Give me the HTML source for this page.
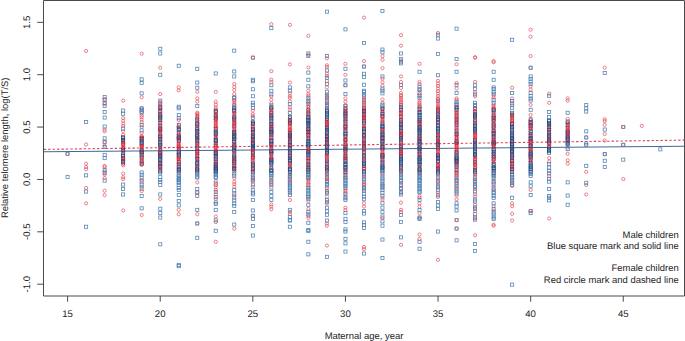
<!DOCTYPE html><html><head><meta charset="utf-8"><style>html,body{margin:0;padding:0;background:#fff;overflow:hidden;}svg{display:block}text{font-family:"Liberation Sans",sans-serif;text-rendering:geometricPrecision;}</style></head><body>
<svg width="685" height="341" viewBox="0 0 685 341">
<rect width="685" height="341" fill="#fff"/>
<line x1="43.5" y1="151.8" x2="684" y2="146.3" stroke="#3d6b9a" stroke-width="1.05"/>
<line x1="43.7" y1="149.4" x2="684" y2="140.1" stroke="#e04858" stroke-width="1.1" stroke-dasharray="2.45 1.987"/>
<style>.bs{stroke:#4d7fb2;stroke-width:0.75}.bd{stroke:#1a4a85;stroke-width:0.65}.rs{stroke:#e34d5a;stroke-width:0.7}.rd{stroke:#e01525;stroke-width:0.6}</style>
<g fill="none"><circle class="rd" cx="326.9" cy="162.0" r="1.6"/><rect class="bd" x="195.7" y="126.1" width="3.1" height="3.1"/><rect class="bs" x="362.4" y="185.1" width="3.1" height="3.1"/><rect class="bd" x="436.5" y="117.0" width="3.1" height="3.1"/><rect class="bd" x="269.8" y="171.2" width="3.1" height="3.1"/><circle class="rd" cx="160.2" cy="124.9" r="1.6"/><rect class="bs" x="547.6" y="180.0" width="3.1" height="3.1"/><circle class="rs" cx="326.9" cy="94.3" r="1.6"/><rect class="bd" x="547.6" y="128.5" width="3.1" height="3.1"/><circle class="rd" cx="141.7" cy="147.1" r="1.6"/><rect class="bs" x="288.3" y="182.9" width="3.1" height="3.1"/><rect class="bd" x="547.6" y="139.5" width="3.1" height="3.1"/><rect class="bs" x="140.1" y="176.0" width="3.1" height="3.1"/><rect class="bd" x="380.9" y="136.4" width="3.1" height="3.1"/><circle class="rs" cx="475.1" cy="57.2" r="1.6"/><circle class="rd" cx="215.8" cy="127.7" r="1.6"/><circle class="rd" cx="123.2" cy="165.3" r="1.6"/><rect class="bd" x="232.7" y="135.7" width="3.1" height="3.1"/><rect class="bd" x="510.6" y="139.6" width="3.1" height="3.1"/><circle class="rd" cx="438.0" cy="156.6" r="1.6"/><circle class="rd" cx="326.9" cy="125.9" r="1.6"/><circle class="rd" cx="475.1" cy="168.2" r="1.6"/><circle class="rd" cx="364.0" cy="118.9" r="1.6"/><rect class="bd" x="269.8" y="129.8" width="3.1" height="3.1"/><circle class="rs" cx="438.0" cy="184.5" r="1.6"/><circle class="rs" cx="215.8" cy="91.8" r="1.6"/><circle class="rd" cx="512.1" cy="156.5" r="1.6"/><rect class="bs" x="140.1" y="110.0" width="3.1" height="3.1"/><rect class="bd" x="232.7" y="164.5" width="3.1" height="3.1"/><rect class="bd" x="288.3" y="138.8" width="3.1" height="3.1"/><rect class="bs" x="158.7" y="102.7" width="3.1" height="3.1"/><circle class="rd" cx="512.1" cy="142.5" r="1.6"/><rect class="bs" x="492.1" y="174.6" width="3.1" height="3.1"/><circle class="rd" cx="549.2" cy="125.9" r="1.6"/><rect class="bd" x="362.4" y="112.4" width="3.1" height="3.1"/><rect class="bs" x="510.6" y="38.2" width="3.1" height="3.1"/><rect class="bs" x="214.2" y="208.3" width="3.1" height="3.1"/><circle class="rs" cx="512.1" cy="173.9" r="1.6"/><rect class="bd" x="547.6" y="147.1" width="3.1" height="3.1"/><circle class="rd" cx="401.0" cy="122.3" r="1.6"/><circle class="rd" cx="123.2" cy="144.3" r="1.6"/><rect class="bs" x="399.4" y="179.6" width="3.1" height="3.1"/><rect class="bs" x="325.4" y="213.2" width="3.1" height="3.1"/><rect class="bs" x="306.8" y="102.4" width="3.1" height="3.1"/><circle class="rd" cx="271.3" cy="122.8" r="1.6"/><circle class="rd" cx="345.4" cy="143.0" r="1.6"/><circle class="rs" cx="456.6" cy="99.8" r="1.6"/><circle class="rd" cx="493.6" cy="166.9" r="1.6"/><rect class="bs" x="269.8" y="180.2" width="3.1" height="3.1"/><circle class="rd" cx="308.4" cy="147.8" r="1.6"/><circle class="rd" cx="215.8" cy="150.2" r="1.6"/><rect class="bd" x="455.0" y="141.1" width="3.1" height="3.1"/><rect class="bd" x="473.5" y="149.4" width="3.1" height="3.1"/><circle class="rd" cx="493.6" cy="120.3" r="1.6"/><circle class="rs" cx="215.8" cy="216.5" r="1.6"/><rect class="bs" x="158.7" y="51.9" width="3.1" height="3.1"/><circle class="rd" cx="160.2" cy="115.6" r="1.6"/><circle class="rs" cx="493.6" cy="224.6" r="1.6"/><rect class="bs" x="362.4" y="180.3" width="3.1" height="3.1"/><rect class="bd" x="436.5" y="156.7" width="3.1" height="3.1"/><circle class="rs" cx="382.5" cy="197.7" r="1.6"/><rect class="bd" x="455.0" y="151.9" width="3.1" height="3.1"/><circle class="rd" cx="160.2" cy="108.1" r="1.6"/><circle class="rd" cx="401.0" cy="126.8" r="1.6"/><rect class="bd" x="362.4" y="126.8" width="3.1" height="3.1"/><rect class="bd" x="306.8" y="122.5" width="3.1" height="3.1"/><circle class="rd" cx="345.4" cy="140.6" r="1.6"/><rect class="bd" x="306.8" y="159.7" width="3.1" height="3.1"/><circle class="rs" cx="104.6" cy="145.7" r="1.6"/><circle class="rd" cx="512.1" cy="138.8" r="1.6"/><rect class="bs" x="492.1" y="215.9" width="3.1" height="3.1"/><circle class="rd" cx="197.3" cy="130.3" r="1.6"/><rect class="bd" x="362.4" y="106.4" width="3.1" height="3.1"/><circle class="rd" cx="401.0" cy="125.8" r="1.6"/><rect class="bs" x="455.0" y="171.9" width="3.1" height="3.1"/><circle class="rd" cx="252.8" cy="170.1" r="1.6"/><circle class="rd" cx="289.9" cy="129.8" r="1.6"/><circle class="rs" cx="512.1" cy="105.4" r="1.6"/><circle class="rs" cx="104.6" cy="190.7" r="1.6"/><rect class="bd" x="418.0" y="126.2" width="3.1" height="3.1"/><rect class="bs" x="510.6" y="101.8" width="3.1" height="3.1"/><circle class="rd" cx="326.9" cy="145.7" r="1.6"/><circle class="rd" cx="326.9" cy="161.3" r="1.6"/><rect class="bd" x="399.4" y="147.5" width="3.1" height="3.1"/><rect class="bd" x="436.5" y="160.4" width="3.1" height="3.1"/><rect class="bs" x="140.1" y="179.9" width="3.1" height="3.1"/><rect class="bd" x="269.8" y="136.1" width="3.1" height="3.1"/><circle class="rd" cx="252.8" cy="136.9" r="1.6"/><circle class="rs" cx="493.6" cy="174.9" r="1.6"/><circle class="rd" cx="234.3" cy="114.9" r="1.6"/><rect class="bs" x="214.2" y="182.0" width="3.1" height="3.1"/><rect class="bs" x="84.6" y="190.0" width="3.1" height="3.1"/><rect class="bd" x="529.1" y="134.4" width="3.1" height="3.1"/><circle class="rs" cx="234.3" cy="102.5" r="1.6"/><rect class="bd" x="214.2" y="154.5" width="3.1" height="3.1"/><circle class="rs" cx="326.9" cy="188.0" r="1.6"/><rect class="bd" x="362.4" y="144.8" width="3.1" height="3.1"/><circle class="rd" cx="530.6" cy="145.1" r="1.6"/><rect class="bs" x="418.0" y="187.8" width="3.1" height="3.1"/><rect class="bd" x="343.9" y="145.5" width="3.1" height="3.1"/><rect class="bd" x="343.9" y="162.5" width="3.1" height="3.1"/><circle class="rd" cx="326.9" cy="169.9" r="1.6"/><rect class="bd" x="362.4" y="110.2" width="3.1" height="3.1"/><rect class="bs" x="325.4" y="198.6" width="3.1" height="3.1"/><circle class="rd" cx="456.6" cy="119.1" r="1.6"/><rect class="bs" x="214.2" y="190.5" width="3.1" height="3.1"/><rect class="bs" x="306.8" y="197.2" width="3.1" height="3.1"/><rect class="bd" x="547.6" y="145.7" width="3.1" height="3.1"/><circle class="rd" cx="401.0" cy="113.0" r="1.6"/><rect class="bd" x="195.7" y="169.9" width="3.1" height="3.1"/><rect class="bs" x="399.4" y="103.6" width="3.1" height="3.1"/><circle class="rd" cx="178.7" cy="147.6" r="1.6"/><rect class="bd" x="399.4" y="165.2" width="3.1" height="3.1"/><circle class="rs" cx="623.3" cy="144.8" r="1.6"/><circle class="rd" cx="364.0" cy="133.5" r="1.6"/><rect class="bd" x="529.1" y="156.8" width="3.1" height="3.1"/><circle class="rs" cx="215.8" cy="194.2" r="1.6"/><circle class="rd" cx="308.4" cy="137.2" r="1.6"/><circle class="rs" cx="438.0" cy="179.6" r="1.6"/><circle class="rd" cx="215.8" cy="141.3" r="1.6"/><rect class="bs" x="399.4" y="178.1" width="3.1" height="3.1"/><circle class="rs" cx="234.3" cy="181.7" r="1.6"/><rect class="bs" x="380.9" y="171.9" width="3.1" height="3.1"/><circle class="rd" cx="178.7" cy="126.4" r="1.6"/><rect class="bd" x="195.7" y="129.4" width="3.1" height="3.1"/><circle class="rd" cx="289.9" cy="149.0" r="1.6"/><rect class="bs" x="177.2" y="116.7" width="3.1" height="3.1"/><circle class="rd" cx="160.2" cy="131.0" r="1.6"/><circle class="rd" cx="308.4" cy="130.4" r="1.6"/><rect class="bs" x="547.6" y="196.2" width="3.1" height="3.1"/><circle class="rd" cx="234.3" cy="129.5" r="1.6"/><circle class="rd" cx="160.2" cy="138.1" r="1.6"/><circle class="rs" cx="215.8" cy="181.3" r="1.6"/><circle class="rs" cx="289.9" cy="191.1" r="1.6"/><rect class="bd" x="473.5" y="142.5" width="3.1" height="3.1"/><circle class="rd" cx="401.0" cy="165.8" r="1.6"/><circle class="rs" cx="401.0" cy="88.0" r="1.6"/><rect class="bd" x="325.4" y="145.0" width="3.1" height="3.1"/><circle class="rd" cx="382.5" cy="108.1" r="1.6"/><circle class="rd" cx="530.6" cy="161.7" r="1.6"/><circle class="rd" cx="271.3" cy="166.6" r="1.6"/><rect class="bd" x="343.9" y="106.4" width="3.1" height="3.1"/><circle class="rd" cx="123.2" cy="150.3" r="1.6"/><rect class="bd" x="343.9" y="117.6" width="3.1" height="3.1"/><rect class="bd" x="269.8" y="111.3" width="3.1" height="3.1"/><rect class="bs" x="84.6" y="225.2" width="3.1" height="3.1"/><rect class="bs" x="306.8" y="183.2" width="3.1" height="3.1"/><circle class="rd" cx="308.4" cy="122.2" r="1.6"/><rect class="bd" x="510.6" y="159.7" width="3.1" height="3.1"/><circle class="rs" cx="308.4" cy="208.8" r="1.6"/><rect class="bd" x="232.7" y="124.8" width="3.1" height="3.1"/><rect class="bd" x="510.6" y="152.8" width="3.1" height="3.1"/><rect class="bs" x="399.4" y="235.8" width="3.1" height="3.1"/><rect class="bd" x="195.7" y="150.0" width="3.1" height="3.1"/><rect class="bd" x="510.6" y="154.2" width="3.1" height="3.1"/><circle class="rd" cx="326.9" cy="154.4" r="1.6"/><rect class="bs" x="380.9" y="238.0" width="3.1" height="3.1"/><rect class="bd" x="325.4" y="122.9" width="3.1" height="3.1"/><circle class="rd" cx="234.3" cy="113.3" r="1.6"/><circle class="rs" cx="604.7" cy="124.8" r="1.6"/><rect class="bd" x="214.2" y="164.4" width="3.1" height="3.1"/><circle class="rs" cx="512.1" cy="87.8" r="1.6"/><circle class="rs" cx="308.4" cy="200.8" r="1.6"/><circle class="rd" cx="475.1" cy="142.8" r="1.6"/><rect class="bd" x="529.1" y="124.8" width="3.1" height="3.1"/><circle class="rd" cx="512.1" cy="119.9" r="1.6"/><rect class="bd" x="306.8" y="150.4" width="3.1" height="3.1"/><circle class="rd" cx="419.5" cy="130.3" r="1.6"/><circle class="rs" cx="123.2" cy="120.8" r="1.6"/><circle class="rd" cx="271.3" cy="164.8" r="1.6"/><circle class="rs" cx="271.3" cy="81.9" r="1.6"/><rect class="bd" x="455.0" y="118.5" width="3.1" height="3.1"/><rect class="bs" x="325.4" y="68.9" width="3.1" height="3.1"/><circle class="rs" cx="67.6" cy="153.8" r="1.6"/><circle class="rs" cx="326.9" cy="245.5" r="1.6"/><circle class="rs" cx="364.0" cy="183.7" r="1.6"/><rect class="bs" x="603.2" y="71.5" width="3.1" height="3.1"/><circle class="rs" cx="419.5" cy="90.2" r="1.6"/><rect class="bd" x="380.9" y="127.0" width="3.1" height="3.1"/><rect class="bs" x="418.0" y="96.4" width="3.1" height="3.1"/><circle class="rd" cx="326.9" cy="129.3" r="1.6"/><rect class="bs" x="251.3" y="106.4" width="3.1" height="3.1"/><rect class="bd" x="343.9" y="134.1" width="3.1" height="3.1"/><circle class="rs" cx="438.0" cy="80.8" r="1.6"/><rect class="bd" x="251.3" y="131.9" width="3.1" height="3.1"/><rect class="bd" x="269.8" y="132.8" width="3.1" height="3.1"/><circle class="rd" cx="530.6" cy="122.6" r="1.6"/><circle class="rs" cx="326.9" cy="203.6" r="1.6"/><circle class="rd" cx="530.6" cy="134.9" r="1.6"/><circle class="rd" cx="530.6" cy="161.0" r="1.6"/><circle class="rd" cx="419.5" cy="162.9" r="1.6"/><rect class="bd" x="399.4" y="108.6" width="3.1" height="3.1"/><rect class="bd" x="510.6" y="165.4" width="3.1" height="3.1"/><rect class="bd" x="214.2" y="110.4" width="3.1" height="3.1"/><rect class="bs" x="103.1" y="95.5" width="3.1" height="3.1"/><circle class="rd" cx="549.2" cy="124.0" r="1.6"/><rect class="bs" x="529.1" y="97.0" width="3.1" height="3.1"/><rect class="bs" x="529.1" y="193.5" width="3.1" height="3.1"/><circle class="rd" cx="197.3" cy="146.8" r="1.6"/><rect class="bd" x="158.7" y="140.2" width="3.1" height="3.1"/><rect class="bd" x="251.3" y="155.8" width="3.1" height="3.1"/><circle class="rs" cx="123.2" cy="179.1" r="1.6"/><rect class="bs" x="380.9" y="214.9" width="3.1" height="3.1"/><rect class="bd" x="306.8" y="144.8" width="3.1" height="3.1"/><rect class="bs" x="584.7" y="143.4" width="3.1" height="3.1"/><circle class="rd" cx="215.8" cy="138.5" r="1.6"/><rect class="bd" x="158.7" y="158.0" width="3.1" height="3.1"/><rect class="bd" x="232.7" y="157.8" width="3.1" height="3.1"/><circle class="rs" cx="289.9" cy="96.2" r="1.6"/><circle class="rd" cx="401.0" cy="120.0" r="1.6"/><rect class="bs" x="473.5" y="215.9" width="3.1" height="3.1"/><rect class="bd" x="177.2" y="165.7" width="3.1" height="3.1"/><rect class="bd" x="362.4" y="167.7" width="3.1" height="3.1"/><rect class="bd" x="473.5" y="124.4" width="3.1" height="3.1"/><circle class="rs" cx="567.7" cy="98.4" r="1.6"/><rect class="bd" x="306.8" y="133.4" width="3.1" height="3.1"/><circle class="rd" cx="512.1" cy="168.4" r="1.6"/><circle class="rs" cx="104.6" cy="165.9" r="1.6"/><rect class="bs" x="177.2" y="193.5" width="3.1" height="3.1"/><circle class="rs" cx="493.6" cy="106.2" r="1.6"/><rect class="bd" x="492.1" y="169.3" width="3.1" height="3.1"/><rect class="bs" x="158.7" y="47.2" width="3.1" height="3.1"/><rect class="bd" x="362.4" y="155.9" width="3.1" height="3.1"/><circle class="rd" cx="271.3" cy="152.1" r="1.6"/><rect class="bd" x="362.4" y="161.2" width="3.1" height="3.1"/><rect class="bd" x="121.6" y="156.8" width="3.1" height="3.1"/><circle class="rd" cx="234.3" cy="134.0" r="1.6"/><circle class="rd" cx="475.1" cy="129.7" r="1.6"/><circle class="rs" cx="512.1" cy="178.5" r="1.6"/><rect class="bd" x="343.9" y="124.2" width="3.1" height="3.1"/><rect class="bd" x="418.0" y="120.8" width="3.1" height="3.1"/><circle class="rd" cx="475.1" cy="137.9" r="1.6"/><rect class="bs" x="380.9" y="87.0" width="3.1" height="3.1"/><rect class="bs" x="103.1" y="101.5" width="3.1" height="3.1"/><rect class="bd" x="362.4" y="134.9" width="3.1" height="3.1"/><rect class="bs" x="380.9" y="74.9" width="3.1" height="3.1"/><circle class="rd" cx="549.2" cy="143.1" r="1.6"/><circle class="rd" cx="308.4" cy="127.6" r="1.6"/><rect class="bd" x="140.1" y="142.0" width="3.1" height="3.1"/><rect class="bd" x="418.0" y="113.3" width="3.1" height="3.1"/><rect class="bs" x="547.6" y="169.3" width="3.1" height="3.1"/><circle class="rd" cx="308.4" cy="135.8" r="1.6"/><circle class="rs" cx="530.6" cy="89.6" r="1.6"/><rect class="bs" x="362.4" y="94.7" width="3.1" height="3.1"/><circle class="rd" cx="364.0" cy="161.4" r="1.6"/><rect class="bd" x="325.4" y="115.4" width="3.1" height="3.1"/><circle class="rd" cx="419.5" cy="147.5" r="1.6"/><circle class="rd" cx="456.6" cy="144.3" r="1.6"/><rect class="bs" x="232.7" y="49.1" width="3.1" height="3.1"/><rect class="bd" x="566.1" y="133.7" width="3.1" height="3.1"/><circle class="rs" cx="345.4" cy="74.8" r="1.6"/><rect class="bd" x="436.5" y="136.4" width="3.1" height="3.1"/><circle class="rs" cx="160.2" cy="198.9" r="1.6"/><circle class="rs" cx="530.6" cy="67.7" r="1.6"/><rect class="bs" x="214.2" y="176.1" width="3.1" height="3.1"/><rect class="bs" x="140.1" y="136.4" width="3.1" height="3.1"/><rect class="bs" x="232.7" y="96.6" width="3.1" height="3.1"/><circle class="rs" cx="86.1" cy="167.0" r="1.6"/><rect class="bd" x="325.4" y="108.1" width="3.1" height="3.1"/><rect class="bs" x="455.0" y="102.2" width="3.1" height="3.1"/><circle class="rd" cx="438.0" cy="116.2" r="1.6"/><rect class="bs" x="288.3" y="177.1" width="3.1" height="3.1"/><rect class="bd" x="362.4" y="127.5" width="3.1" height="3.1"/><circle class="rd" cx="289.9" cy="127.2" r="1.6"/><circle class="rd" cx="234.3" cy="121.7" r="1.6"/><rect class="bd" x="269.8" y="131.3" width="3.1" height="3.1"/><rect class="bs" x="603.2" y="128.0" width="3.1" height="3.1"/><rect class="bd" x="140.1" y="153.4" width="3.1" height="3.1"/><circle class="rs" cx="549.2" cy="158.2" r="1.6"/><rect class="bd" x="492.1" y="167.4" width="3.1" height="3.1"/><rect class="bs" x="269.8" y="172.8" width="3.1" height="3.1"/><rect class="bs" x="436.5" y="175.9" width="3.1" height="3.1"/><circle class="rd" cx="438.0" cy="153.8" r="1.6"/><rect class="bd" x="399.4" y="161.3" width="3.1" height="3.1"/><circle class="rd" cx="326.9" cy="127.0" r="1.6"/><rect class="bs" x="473.5" y="242.4" width="3.1" height="3.1"/><circle class="rd" cx="567.7" cy="126.2" r="1.6"/><circle class="rd" cx="197.3" cy="122.8" r="1.6"/><rect class="bd" x="529.1" y="150.2" width="3.1" height="3.1"/><rect class="bs" x="492.1" y="98.3" width="3.1" height="3.1"/><rect class="bs" x="306.8" y="210.3" width="3.1" height="3.1"/><circle class="rd" cx="326.9" cy="134.8" r="1.6"/><rect class="bs" x="325.4" y="255.3" width="3.1" height="3.1"/><circle class="rs" cx="382.5" cy="68.2" r="1.6"/><rect class="bd" x="547.6" y="133.1" width="3.1" height="3.1"/><circle class="rs" cx="197.3" cy="98.4" r="1.6"/><rect class="bd" x="529.1" y="137.7" width="3.1" height="3.1"/><circle class="rs" cx="419.5" cy="217.6" r="1.6"/><rect class="bs" x="343.9" y="237.3" width="3.1" height="3.1"/><rect class="bs" x="288.3" y="225.2" width="3.1" height="3.1"/><circle class="rd" cx="215.8" cy="135.1" r="1.6"/><rect class="bs" x="269.8" y="89.2" width="3.1" height="3.1"/><rect class="bd" x="362.4" y="116.4" width="3.1" height="3.1"/><circle class="rd" cx="345.4" cy="162.4" r="1.6"/><rect class="bd" x="380.9" y="131.1" width="3.1" height="3.1"/><circle class="rs" cx="382.5" cy="56.1" r="1.6"/><circle class="rd" cx="234.3" cy="158.5" r="1.6"/><rect class="bd" x="529.1" y="117.8" width="3.1" height="3.1"/><circle class="rd" cx="364.0" cy="124.5" r="1.6"/><rect class="bs" x="603.2" y="159.2" width="3.1" height="3.1"/><rect class="bd" x="380.9" y="158.4" width="3.1" height="3.1"/><circle class="rs" cx="512.1" cy="220.5" r="1.6"/><rect class="bd" x="288.3" y="154.9" width="3.1" height="3.1"/><circle class="rs" cx="438.0" cy="93.5" r="1.6"/><rect class="bs" x="325.4" y="82.5" width="3.1" height="3.1"/><circle class="rd" cx="252.8" cy="138.6" r="1.6"/><rect class="bs" x="158.7" y="183.4" width="3.1" height="3.1"/><rect class="bd" x="380.9" y="142.1" width="3.1" height="3.1"/><circle class="rd" cx="401.0" cy="170.3" r="1.6"/><circle class="rd" cx="419.5" cy="142.6" r="1.6"/><circle class="rd" cx="475.1" cy="135.3" r="1.6"/><rect class="bd" x="251.3" y="142.2" width="3.1" height="3.1"/><rect class="bd" x="195.7" y="154.3" width="3.1" height="3.1"/><circle class="rs" cx="438.0" cy="103.6" r="1.6"/><circle class="rd" cx="419.5" cy="125.6" r="1.6"/><circle class="rd" cx="475.1" cy="112.6" r="1.6"/><rect class="bd" x="158.7" y="121.6" width="3.1" height="3.1"/><circle class="rs" cx="419.5" cy="63.8" r="1.6"/><rect class="bs" x="529.1" y="80.0" width="3.1" height="3.1"/><circle class="rd" cx="308.4" cy="133.8" r="1.6"/><rect class="bd" x="399.4" y="129.2" width="3.1" height="3.1"/><circle class="rd" cx="252.8" cy="121.5" r="1.6"/><rect class="bs" x="269.8" y="186.0" width="3.1" height="3.1"/><circle class="rd" cx="308.4" cy="150.8" r="1.6"/><rect class="bd" x="325.4" y="138.1" width="3.1" height="3.1"/><circle class="rs" cx="86.1" cy="203.3" r="1.6"/><circle class="rs" cx="289.9" cy="97.9" r="1.6"/><rect class="bs" x="455.0" y="27.1" width="3.1" height="3.1"/><rect class="bd" x="251.3" y="127.4" width="3.1" height="3.1"/><circle class="rs" cx="401.0" cy="45.7" r="1.6"/><rect class="bd" x="177.2" y="150.0" width="3.1" height="3.1"/><rect class="bs" x="418.0" y="178.4" width="3.1" height="3.1"/><rect class="bd" x="529.1" y="168.9" width="3.1" height="3.1"/><circle class="rs" cx="456.6" cy="175.5" r="1.6"/><circle class="rs" cx="289.9" cy="82.6" r="1.6"/><circle class="rs" cx="271.3" cy="99.7" r="1.6"/><rect class="bd" x="455.0" y="159.5" width="3.1" height="3.1"/><circle class="rd" cx="364.0" cy="155.1" r="1.6"/><rect class="bs" x="473.5" y="207.5" width="3.1" height="3.1"/><circle class="rs" cx="604.7" cy="154.2" r="1.6"/><rect class="bs" x="343.9" y="220.4" width="3.1" height="3.1"/><rect class="bs" x="343.9" y="180.9" width="3.1" height="3.1"/><circle class="rs" cx="308.4" cy="99.5" r="1.6"/><rect class="bd" x="288.3" y="150.0" width="3.1" height="3.1"/><rect class="bs" x="621.7" y="125.5" width="3.1" height="3.1"/><rect class="bs" x="418.0" y="217.4" width="3.1" height="3.1"/><rect class="bs" x="325.4" y="182.3" width="3.1" height="3.1"/><rect class="bd" x="529.1" y="154.0" width="3.1" height="3.1"/><rect class="bs" x="251.3" y="56.1" width="3.1" height="3.1"/><circle class="rs" cx="160.2" cy="67.7" r="1.6"/><circle class="rs" cx="252.8" cy="186.7" r="1.6"/><rect class="bs" x="455.0" y="182.9" width="3.1" height="3.1"/><circle class="rd" cx="326.9" cy="137.6" r="1.6"/><rect class="bd" x="306.8" y="116.9" width="3.1" height="3.1"/><circle class="rd" cx="345.4" cy="117.5" r="1.6"/><circle class="rs" cx="493.6" cy="205.9" r="1.6"/><rect class="bs" x="177.2" y="64.2" width="3.1" height="3.1"/><rect class="bs" x="214.2" y="71.9" width="3.1" height="3.1"/><rect class="bs" x="418.0" y="105.0" width="3.1" height="3.1"/><circle class="rd" cx="567.7" cy="129.6" r="1.6"/><rect class="bd" x="510.6" y="113.4" width="3.1" height="3.1"/><circle class="rs" cx="419.5" cy="103.4" r="1.6"/><circle class="rd" cx="197.3" cy="139.0" r="1.6"/><circle class="rs" cx="308.4" cy="35.8" r="1.6"/><circle class="rs" cx="604.7" cy="67.7" r="1.6"/><rect class="bs" x="399.4" y="186.2" width="3.1" height="3.1"/><circle class="rs" cx="123.2" cy="177.2" r="1.6"/><rect class="bd" x="158.7" y="118.1" width="3.1" height="3.1"/><circle class="rd" cx="215.8" cy="172.6" r="1.6"/><rect class="bd" x="177.2" y="150.7" width="3.1" height="3.1"/><circle class="rd" cx="234.3" cy="143.3" r="1.6"/><circle class="rd" cx="178.7" cy="145.8" r="1.6"/><rect class="bs" x="232.7" y="188.6" width="3.1" height="3.1"/><circle class="rs" cx="308.4" cy="174.8" r="1.6"/><rect class="bs" x="547.6" y="166.0" width="3.1" height="3.1"/><circle class="rd" cx="364.0" cy="108.8" r="1.6"/><rect class="bd" x="251.3" y="166.1" width="3.1" height="3.1"/><rect class="bs" x="418.0" y="184.8" width="3.1" height="3.1"/><rect class="bd" x="380.9" y="146.9" width="3.1" height="3.1"/><circle class="rs" cx="215.8" cy="187.4" r="1.6"/><circle class="rd" cx="215.8" cy="148.6" r="1.6"/><rect class="bs" x="436.5" y="33.2" width="3.1" height="3.1"/><rect class="bs" x="269.8" y="182.0" width="3.1" height="3.1"/><circle class="rs" cx="345.4" cy="189.8" r="1.6"/><circle class="rs" cx="252.8" cy="110.6" r="1.6"/><circle class="rd" cx="364.0" cy="170.8" r="1.6"/><circle class="rd" cx="475.1" cy="123.7" r="1.6"/><circle class="rd" cx="512.1" cy="131.4" r="1.6"/><rect class="bd" x="510.6" y="149.5" width="3.1" height="3.1"/><rect class="bd" x="380.9" y="165.5" width="3.1" height="3.1"/><rect class="bs" x="455.0" y="70.2" width="3.1" height="3.1"/><rect class="bd" x="251.3" y="151.2" width="3.1" height="3.1"/><circle class="rs" cx="234.3" cy="104.6" r="1.6"/><circle class="rd" cx="197.3" cy="138.0" r="1.6"/><rect class="bd" x="325.4" y="140.8" width="3.1" height="3.1"/><circle class="rd" cx="401.0" cy="142.1" r="1.6"/><circle class="rs" cx="364.0" cy="178.6" r="1.6"/><rect class="bd" x="325.4" y="169.4" width="3.1" height="3.1"/><circle class="rs" cx="345.4" cy="196.5" r="1.6"/><circle class="rs" cx="86.1" cy="144.5" r="1.6"/><circle class="rs" cx="271.3" cy="103.1" r="1.6"/><circle class="rs" cx="252.8" cy="114.1" r="1.6"/><rect class="bd" x="232.7" y="166.7" width="3.1" height="3.1"/><circle class="rs" cx="475.1" cy="175.0" r="1.6"/><circle class="rd" cx="197.3" cy="116.8" r="1.6"/><rect class="bs" x="306.8" y="51.9" width="3.1" height="3.1"/><rect class="bs" x="103.1" y="104.5" width="3.1" height="3.1"/><circle class="rs" cx="401.0" cy="212.0" r="1.6"/><circle class="rd" cx="530.6" cy="159.4" r="1.6"/><rect class="bd" x="195.7" y="130.9" width="3.1" height="3.1"/><circle class="rs" cx="141.7" cy="126.8" r="1.6"/><rect class="bs" x="510.6" y="173.5" width="3.1" height="3.1"/><circle class="rs" cx="419.5" cy="84.1" r="1.6"/><rect class="bs" x="121.6" y="192.9" width="3.1" height="3.1"/><rect class="bs" x="343.9" y="184.5" width="3.1" height="3.1"/><circle class="rd" cx="141.7" cy="137.2" r="1.6"/><circle class="rd" cx="234.3" cy="167.2" r="1.6"/><circle class="rd" cx="493.6" cy="121.1" r="1.6"/><rect class="bs" x="362.4" y="90.4" width="3.1" height="3.1"/><circle class="rd" cx="530.6" cy="150.8" r="1.6"/><rect class="bs" x="325.4" y="206.1" width="3.1" height="3.1"/><rect class="bs" x="455.0" y="205.0" width="3.1" height="3.1"/><rect class="bs" x="177.2" y="113.4" width="3.1" height="3.1"/><circle class="rd" cx="382.5" cy="129.3" r="1.6"/><circle class="rs" cx="104.6" cy="129.6" r="1.6"/><rect class="bd" x="177.2" y="154.0" width="3.1" height="3.1"/><circle class="rd" cx="475.1" cy="167.5" r="1.6"/><circle class="rs" cx="401.0" cy="104.4" r="1.6"/><rect class="bd" x="362.4" y="130.4" width="3.1" height="3.1"/><circle class="rd" cx="364.0" cy="137.8" r="1.6"/><circle class="rd" cx="475.1" cy="165.7" r="1.6"/><rect class="bs" x="473.5" y="199.8" width="3.1" height="3.1"/><circle class="rd" cx="326.9" cy="119.5" r="1.6"/><rect class="bd" x="343.9" y="143.9" width="3.1" height="3.1"/><circle class="rd" cx="364.0" cy="141.6" r="1.6"/><rect class="bd" x="343.9" y="109.1" width="3.1" height="3.1"/><circle class="rs" cx="141.7" cy="186.6" r="1.6"/><circle class="rs" cx="382.5" cy="59.8" r="1.6"/><rect class="bs" x="251.3" y="183.0" width="3.1" height="3.1"/><rect class="bs" x="140.1" y="111.1" width="3.1" height="3.1"/><rect class="bs" x="473.5" y="175.6" width="3.1" height="3.1"/><rect class="bs" x="492.1" y="211.1" width="3.1" height="3.1"/><circle class="rs" cx="234.3" cy="90.0" r="1.6"/><circle class="rs" cx="549.2" cy="102.8" r="1.6"/><circle class="rd" cx="308.4" cy="150.0" r="1.6"/><circle class="rd" cx="493.6" cy="112.2" r="1.6"/><circle class="rd" cx="419.5" cy="145.2" r="1.6"/><rect class="bd" x="418.0" y="146.8" width="3.1" height="3.1"/><circle class="rs" cx="234.3" cy="87.0" r="1.6"/><rect class="bs" x="547.6" y="171.8" width="3.1" height="3.1"/><rect class="bd" x="306.8" y="130.6" width="3.1" height="3.1"/><rect class="bd" x="473.5" y="118.2" width="3.1" height="3.1"/><circle class="rs" cx="308.4" cy="106.0" r="1.6"/><rect class="bd" x="399.4" y="123.1" width="3.1" height="3.1"/><rect class="bs" x="232.7" y="198.9" width="3.1" height="3.1"/><rect class="bs" x="529.1" y="99.0" width="3.1" height="3.1"/><circle class="rd" cx="493.6" cy="129.9" r="1.6"/><rect class="bd" x="232.7" y="145.2" width="3.1" height="3.1"/><circle class="rd" cx="271.3" cy="139.3" r="1.6"/><circle class="rs" cx="438.0" cy="86.0" r="1.6"/><rect class="bs" x="325.4" y="200.3" width="3.1" height="3.1"/><rect class="bd" x="269.8" y="128.1" width="3.1" height="3.1"/><circle class="rs" cx="308.4" cy="95.7" r="1.6"/><rect class="bd" x="251.3" y="130.4" width="3.1" height="3.1"/><rect class="bs" x="399.4" y="51.9" width="3.1" height="3.1"/><circle class="rd" cx="289.9" cy="118.1" r="1.6"/><rect class="bd" x="121.6" y="139.8" width="3.1" height="3.1"/><rect class="bd" x="232.7" y="160.8" width="3.1" height="3.1"/><rect class="bs" x="306.8" y="188.3" width="3.1" height="3.1"/><rect class="bs" x="473.5" y="212.7" width="3.1" height="3.1"/><rect class="bd" x="418.0" y="130.7" width="3.1" height="3.1"/><rect class="bd" x="529.1" y="145.0" width="3.1" height="3.1"/><rect class="bd" x="288.3" y="158.7" width="3.1" height="3.1"/><rect class="bs" x="325.4" y="173.7" width="3.1" height="3.1"/><circle class="rs" cx="401.0" cy="101.8" r="1.6"/><circle class="rs" cx="178.7" cy="209.9" r="1.6"/><rect class="bs" x="103.1" y="156.6" width="3.1" height="3.1"/><circle class="rd" cx="382.5" cy="136.3" r="1.6"/><circle class="rd" cx="345.4" cy="120.7" r="1.6"/><rect class="bs" x="306.8" y="194.1" width="3.1" height="3.1"/><circle class="rs" cx="289.9" cy="214.1" r="1.6"/><circle class="rd" cx="456.6" cy="138.0" r="1.6"/><rect class="bs" x="103.1" y="140.4" width="3.1" height="3.1"/><rect class="bd" x="362.4" y="141.5" width="3.1" height="3.1"/><rect class="bd" x="288.3" y="143.4" width="3.1" height="3.1"/><rect class="bs" x="418.0" y="182.9" width="3.1" height="3.1"/><circle class="rd" cx="438.0" cy="149.4" r="1.6"/><rect class="bs" x="362.4" y="101.9" width="3.1" height="3.1"/><circle class="rd" cx="475.1" cy="147.8" r="1.6"/><rect class="bd" x="418.0" y="129.4" width="3.1" height="3.1"/><rect class="bd" x="325.4" y="149.8" width="3.1" height="3.1"/><circle class="rd" cx="160.2" cy="125.8" r="1.6"/><rect class="bs" x="140.1" y="206.8" width="3.1" height="3.1"/><rect class="bd" x="251.3" y="143.1" width="3.1" height="3.1"/><circle class="rd" cx="123.2" cy="139.3" r="1.6"/><rect class="bs" x="214.2" y="173.1" width="3.1" height="3.1"/><rect class="bd" x="177.2" y="147.6" width="3.1" height="3.1"/><circle class="rs" cx="419.5" cy="213.1" r="1.6"/><circle class="rd" cx="456.6" cy="143.4" r="1.6"/><rect class="bd" x="418.0" y="122.4" width="3.1" height="3.1"/><rect class="bs" x="251.3" y="178.6" width="3.1" height="3.1"/><rect class="bd" x="529.1" y="151.7" width="3.1" height="3.1"/><circle class="rs" cx="419.5" cy="100.3" r="1.6"/><rect class="bd" x="492.1" y="118.0" width="3.1" height="3.1"/><circle class="rd" cx="271.3" cy="153.1" r="1.6"/><circle class="rd" cx="493.6" cy="113.7" r="1.6"/><circle class="rd" cx="438.0" cy="111.3" r="1.6"/><rect class="bd" x="473.5" y="127.3" width="3.1" height="3.1"/><circle class="rd" cx="234.3" cy="127.9" r="1.6"/><circle class="rd" cx="382.5" cy="131.2" r="1.6"/><circle class="rs" cx="475.1" cy="194.3" r="1.6"/><rect class="bs" x="325.4" y="96.7" width="3.1" height="3.1"/><rect class="bd" x="566.1" y="137.5" width="3.1" height="3.1"/><rect class="bd" x="177.2" y="162.9" width="3.1" height="3.1"/><circle class="rd" cx="456.6" cy="123.1" r="1.6"/><circle class="rs" cx="401.0" cy="96.2" r="1.6"/><rect class="bs" x="380.9" y="201.7" width="3.1" height="3.1"/><circle class="rs" cx="141.7" cy="119.7" r="1.6"/><circle class="rs" cx="401.0" cy="193.0" r="1.6"/><circle class="rd" cx="215.8" cy="136.2" r="1.6"/><rect class="bd" x="288.3" y="154.1" width="3.1" height="3.1"/><rect class="bs" x="547.6" y="110.5" width="3.1" height="3.1"/><rect class="bd" x="343.9" y="158.1" width="3.1" height="3.1"/><circle class="rs" cx="308.4" cy="216.0" r="1.6"/><rect class="bd" x="343.9" y="131.1" width="3.1" height="3.1"/><circle class="rd" cx="567.7" cy="122.5" r="1.6"/><circle class="rd" cx="512.1" cy="164.6" r="1.6"/><circle class="rs" cx="419.5" cy="206.6" r="1.6"/><circle class="rd" cx="456.6" cy="155.0" r="1.6"/><circle class="rd" cx="215.8" cy="116.9" r="1.6"/><rect class="bs" x="232.7" y="223.0" width="3.1" height="3.1"/><circle class="rs" cx="419.5" cy="203.4" r="1.6"/><circle class="rd" cx="141.7" cy="156.6" r="1.6"/><rect class="bd" x="492.1" y="147.5" width="3.1" height="3.1"/><rect class="bd" x="455.0" y="150.1" width="3.1" height="3.1"/><rect class="bd" x="399.4" y="128.0" width="3.1" height="3.1"/><rect class="bd" x="399.4" y="154.3" width="3.1" height="3.1"/><rect class="bs" x="584.7" y="164.3" width="3.1" height="3.1"/><rect class="bs" x="455.0" y="100.3" width="3.1" height="3.1"/><circle class="rd" cx="289.9" cy="119.8" r="1.6"/><circle class="rd" cx="197.3" cy="165.1" r="1.6"/><circle class="rd" cx="438.0" cy="108.0" r="1.6"/><rect class="bd" x="140.1" y="151.8" width="3.1" height="3.1"/><circle class="rd" cx="271.3" cy="116.7" r="1.6"/><rect class="bd" x="529.1" y="123.9" width="3.1" height="3.1"/><circle class="rd" cx="215.8" cy="163.4" r="1.6"/><circle class="rs" cx="401.0" cy="183.3" r="1.6"/><rect class="bs" x="380.9" y="184.6" width="3.1" height="3.1"/><rect class="bs" x="455.0" y="176.8" width="3.1" height="3.1"/><rect class="bs" x="288.3" y="218.2" width="3.1" height="3.1"/><circle class="rd" cx="234.3" cy="171.5" r="1.6"/><rect class="bd" x="214.2" y="150.8" width="3.1" height="3.1"/><circle class="rd" cx="308.4" cy="112.0" r="1.6"/><rect class="bd" x="251.3" y="167.3" width="3.1" height="3.1"/><rect class="bd" x="214.2" y="162.7" width="3.1" height="3.1"/><rect class="bs" x="473.5" y="205.8" width="3.1" height="3.1"/><circle class="rd" cx="382.5" cy="157.0" r="1.6"/><rect class="bd" x="380.9" y="169.9" width="3.1" height="3.1"/><circle class="rd" cx="456.6" cy="142.0" r="1.6"/><circle class="rs" cx="401.0" cy="209.9" r="1.6"/><circle class="rd" cx="160.2" cy="121.4" r="1.6"/><rect class="bd" x="269.8" y="106.7" width="3.1" height="3.1"/><circle class="rs" cx="401.0" cy="76.4" r="1.6"/><circle class="rd" cx="234.3" cy="125.6" r="1.6"/><circle class="rs" cx="530.6" cy="105.0" r="1.6"/><circle class="rd" cx="215.8" cy="119.9" r="1.6"/><circle class="rs" cx="271.3" cy="206.6" r="1.6"/><circle class="rd" cx="364.0" cy="153.4" r="1.6"/><rect class="bd" x="473.5" y="144.9" width="3.1" height="3.1"/><rect class="bd" x="455.0" y="156.9" width="3.1" height="3.1"/><rect class="bd" x="343.9" y="129.4" width="3.1" height="3.1"/><rect class="bd" x="492.1" y="166.6" width="3.1" height="3.1"/><circle class="rd" cx="289.9" cy="133.8" r="1.6"/><circle class="rs" cx="382.5" cy="175.3" r="1.6"/><rect class="bd" x="510.6" y="156.5" width="3.1" height="3.1"/><rect class="bd" x="529.1" y="140.2" width="3.1" height="3.1"/><rect class="bd" x="418.0" y="152.9" width="3.1" height="3.1"/><rect class="bs" x="251.3" y="177.0" width="3.1" height="3.1"/><circle class="rd" cx="382.5" cy="161.5" r="1.6"/><rect class="bd" x="492.1" y="152.5" width="3.1" height="3.1"/><circle class="rd" cx="512.1" cy="118.8" r="1.6"/><rect class="bs" x="325.4" y="10.1" width="3.1" height="3.1"/><rect class="bd" x="343.9" y="147.6" width="3.1" height="3.1"/><circle class="rd" cx="401.0" cy="137.3" r="1.6"/><rect class="bd" x="177.2" y="155.1" width="3.1" height="3.1"/><circle class="rd" cx="345.4" cy="139.3" r="1.6"/><rect class="bd" x="158.7" y="161.3" width="3.1" height="3.1"/><rect class="bs" x="158.7" y="242.8" width="3.1" height="3.1"/><rect class="bd" x="436.5" y="123.1" width="3.1" height="3.1"/><circle class="rs" cx="234.3" cy="178.2" r="1.6"/><circle class="rs" cx="160.2" cy="103.3" r="1.6"/><rect class="bs" x="232.7" y="210.4" width="3.1" height="3.1"/><rect class="bd" x="195.7" y="134.1" width="3.1" height="3.1"/><rect class="bd" x="455.0" y="108.5" width="3.1" height="3.1"/><circle class="rs" cx="549.2" cy="161.5" r="1.6"/><circle class="rs" cx="345.4" cy="173.1" r="1.6"/><circle class="rs" cx="326.9" cy="196.6" r="1.6"/><rect class="bs" x="158.7" y="207.2" width="3.1" height="3.1"/><circle class="rd" cx="401.0" cy="114.0" r="1.6"/><circle class="rd" cx="364.0" cy="166.4" r="1.6"/><circle class="rs" cx="123.2" cy="100.6" r="1.6"/><rect class="bd" x="343.9" y="166.3" width="3.1" height="3.1"/><rect class="bd" x="399.4" y="149.2" width="3.1" height="3.1"/><circle class="rd" cx="530.6" cy="148.1" r="1.6"/><circle class="rd" cx="530.6" cy="148.9" r="1.6"/><rect class="bd" x="325.4" y="129.8" width="3.1" height="3.1"/><rect class="bd" x="547.6" y="134.4" width="3.1" height="3.1"/><circle class="rd" cx="401.0" cy="145.8" r="1.6"/><rect class="bs" x="325.4" y="191.7" width="3.1" height="3.1"/><rect class="bd" x="232.7" y="146.8" width="3.1" height="3.1"/><rect class="bd" x="436.5" y="140.7" width="3.1" height="3.1"/><circle class="rd" cx="364.0" cy="126.2" r="1.6"/><rect class="bs" x="399.4" y="175.0" width="3.1" height="3.1"/><circle class="rs" cx="345.4" cy="85.2" r="1.6"/><rect class="bd" x="362.4" y="154.5" width="3.1" height="3.1"/><rect class="bs" x="251.3" y="188.7" width="3.1" height="3.1"/><rect class="bd" x="492.1" y="141.2" width="3.1" height="3.1"/><rect class="bs" x="399.4" y="83.5" width="3.1" height="3.1"/><rect class="bd" x="436.5" y="169.7" width="3.1" height="3.1"/><rect class="bd" x="306.8" y="153.8" width="3.1" height="3.1"/><rect class="bd" x="251.3" y="170.7" width="3.1" height="3.1"/><circle class="rd" cx="141.7" cy="145.6" r="1.6"/><rect class="bd" x="269.8" y="124.0" width="3.1" height="3.1"/><circle class="rd" cx="512.1" cy="148.6" r="1.6"/><circle class="rd" cx="234.3" cy="169.9" r="1.6"/><circle class="rd" cx="215.8" cy="144.4" r="1.6"/><rect class="bs" x="343.9" y="104.5" width="3.1" height="3.1"/><rect class="bd" x="343.9" y="112.8" width="3.1" height="3.1"/><circle class="rd" cx="160.2" cy="145.4" r="1.6"/><rect class="bd" x="473.5" y="114.9" width="3.1" height="3.1"/><rect class="bs" x="177.2" y="203.9" width="3.1" height="3.1"/><circle class="rd" cx="252.8" cy="171.4" r="1.6"/><rect class="bd" x="177.2" y="123.2" width="3.1" height="3.1"/><circle class="rd" cx="401.0" cy="131.4" r="1.6"/><circle class="rd" cx="197.3" cy="157.5" r="1.6"/><rect class="bd" x="399.4" y="157.5" width="3.1" height="3.1"/><circle class="rd" cx="493.6" cy="128.2" r="1.6"/><circle class="rs" cx="401.0" cy="99.8" r="1.6"/><rect class="bs" x="418.0" y="190.8" width="3.1" height="3.1"/><rect class="bs" x="362.4" y="212.0" width="3.1" height="3.1"/><circle class="rd" cx="326.9" cy="122.0" r="1.6"/><rect class="bs" x="380.9" y="177.8" width="3.1" height="3.1"/><circle class="rs" cx="364.0" cy="106.6" r="1.6"/><circle class="rs" cx="197.3" cy="182.4" r="1.6"/><circle class="rd" cx="512.1" cy="132.9" r="1.6"/><rect class="bs" x="510.6" y="183.3" width="3.1" height="3.1"/><circle class="rs" cx="438.0" cy="96.0" r="1.6"/><circle class="rd" cx="178.7" cy="163.6" r="1.6"/><rect class="bd" x="492.1" y="140.6" width="3.1" height="3.1"/><circle class="rd" cx="475.1" cy="133.1" r="1.6"/><circle class="rs" cx="364.0" cy="203.3" r="1.6"/><circle class="rs" cx="215.8" cy="222.0" r="1.6"/><circle class="rd" cx="438.0" cy="168.0" r="1.6"/><circle class="rd" cx="308.4" cy="170.4" r="1.6"/><circle class="rd" cx="456.6" cy="128.5" r="1.6"/><circle class="rd" cx="364.0" cy="109.9" r="1.6"/><circle class="rd" cx="308.4" cy="109.3" r="1.6"/><rect class="bd" x="269.8" y="158.4" width="3.1" height="3.1"/><circle class="rd" cx="345.4" cy="153.8" r="1.6"/><circle class="rs" cx="345.4" cy="98.4" r="1.6"/><rect class="bs" x="362.4" y="89.2" width="3.1" height="3.1"/><circle class="rs" cx="271.3" cy="204.4" r="1.6"/><circle class="rs" cx="438.0" cy="98.4" r="1.6"/><rect class="bs" x="473.5" y="180.6" width="3.1" height="3.1"/><circle class="rd" cx="567.7" cy="130.6" r="1.6"/><rect class="bs" x="455.0" y="103.2" width="3.1" height="3.1"/><rect class="bd" x="473.5" y="169.8" width="3.1" height="3.1"/><rect class="bd" x="306.8" y="108.9" width="3.1" height="3.1"/><circle class="rs" cx="623.3" cy="179.1" r="1.6"/><rect class="bd" x="418.0" y="115.1" width="3.1" height="3.1"/><rect class="bs" x="103.1" y="153.3" width="3.1" height="3.1"/><circle class="rd" cx="178.7" cy="134.4" r="1.6"/><circle class="rs" cx="419.5" cy="195.9" r="1.6"/><circle class="rd" cx="475.1" cy="158.9" r="1.6"/><circle class="rd" cx="512.1" cy="153.3" r="1.6"/><circle class="rs" cx="493.6" cy="61.1" r="1.6"/><circle class="rd" cx="456.6" cy="146.3" r="1.6"/><rect class="bs" x="380.9" y="91.8" width="3.1" height="3.1"/><rect class="bd" x="473.5" y="128.9" width="3.1" height="3.1"/><rect class="bs" x="306.8" y="221.2" width="3.1" height="3.1"/><circle class="rd" cx="345.4" cy="129.5" r="1.6"/><circle class="rs" cx="308.4" cy="218.0" r="1.6"/><rect class="bd" x="158.7" y="113.0" width="3.1" height="3.1"/><circle class="rs" cx="271.3" cy="209.2" r="1.6"/><rect class="bd" x="362.4" y="162.5" width="3.1" height="3.1"/><circle class="rd" cx="308.4" cy="166.5" r="1.6"/><circle class="rd" cx="345.4" cy="124.1" r="1.6"/><circle class="rd" cx="530.6" cy="149.5" r="1.6"/><rect class="bs" x="455.0" y="184.7" width="3.1" height="3.1"/><rect class="bd" x="232.7" y="143.9" width="3.1" height="3.1"/><circle class="rd" cx="215.8" cy="137.8" r="1.6"/><circle class="rd" cx="160.2" cy="156.8" r="1.6"/><rect class="bs" x="84.6" y="173.8" width="3.1" height="3.1"/><rect class="bd" x="177.2" y="136.6" width="3.1" height="3.1"/><circle class="rd" cx="530.6" cy="137.5" r="1.6"/><rect class="bs" x="362.4" y="172.5" width="3.1" height="3.1"/><rect class="bd" x="269.8" y="152.2" width="3.1" height="3.1"/><circle class="rd" cx="289.9" cy="125.7" r="1.6"/><rect class="bs" x="251.3" y="87.7" width="3.1" height="3.1"/><circle class="rd" cx="456.6" cy="162.4" r="1.6"/><rect class="bs" x="140.1" y="187.1" width="3.1" height="3.1"/><rect class="bs" x="362.4" y="72.2" width="3.1" height="3.1"/><circle class="rd" cx="215.8" cy="147.7" r="1.6"/><rect class="bd" x="473.5" y="121.0" width="3.1" height="3.1"/><circle class="rs" cx="197.3" cy="214.3" r="1.6"/><circle class="rd" cx="215.8" cy="123.9" r="1.6"/><rect class="bd" x="177.2" y="168.3" width="3.1" height="3.1"/><circle class="rd" cx="364.0" cy="134.9" r="1.6"/><rect class="bs" x="473.5" y="218.1" width="3.1" height="3.1"/><rect class="bs" x="436.5" y="230.0" width="3.1" height="3.1"/><circle class="rd" cx="382.5" cy="122.1" r="1.6"/><rect class="bd" x="288.3" y="131.5" width="3.1" height="3.1"/><rect class="bd" x="473.5" y="130.1" width="3.1" height="3.1"/><circle class="rs" cx="567.7" cy="147.5" r="1.6"/><circle class="rd" cx="308.4" cy="163.1" r="1.6"/><circle class="rd" cx="345.4" cy="128.4" r="1.6"/><circle class="rd" cx="493.6" cy="135.5" r="1.6"/><rect class="bd" x="362.4" y="109.5" width="3.1" height="3.1"/><rect class="bd" x="325.4" y="134.3" width="3.1" height="3.1"/><rect class="bd" x="418.0" y="156.6" width="3.1" height="3.1"/><rect class="bd" x="177.2" y="169.7" width="3.1" height="3.1"/><rect class="bd" x="158.7" y="134.2" width="3.1" height="3.1"/><rect class="bs" x="418.0" y="247.2" width="3.1" height="3.1"/><circle class="rs" cx="234.3" cy="94.0" r="1.6"/><circle class="rs" cx="289.9" cy="174.8" r="1.6"/><circle class="rd" cx="234.3" cy="163.6" r="1.6"/><circle class="rd" cx="178.7" cy="158.8" r="1.6"/><circle class="rs" cx="271.3" cy="96.3" r="1.6"/><rect class="bs" x="399.4" y="183.6" width="3.1" height="3.1"/><circle class="rs" cx="364.0" cy="191.0" r="1.6"/><circle class="rs" cx="289.9" cy="101.3" r="1.6"/><rect class="bd" x="418.0" y="163.5" width="3.1" height="3.1"/><rect class="bs" x="362.4" y="98.4" width="3.1" height="3.1"/><rect class="bs" x="177.2" y="180.0" width="3.1" height="3.1"/><circle class="rd" cx="215.8" cy="154.8" r="1.6"/><rect class="bs" x="325.4" y="184.0" width="3.1" height="3.1"/><circle class="rd" cx="160.2" cy="109.1" r="1.6"/><rect class="bd" x="566.1" y="123.5" width="3.1" height="3.1"/><rect class="bd" x="232.7" y="131.4" width="3.1" height="3.1"/><circle class="rd" cx="382.5" cy="111.8" r="1.6"/><rect class="bs" x="455.0" y="57.4" width="3.1" height="3.1"/><circle class="rd" cx="308.4" cy="148.9" r="1.6"/><rect class="bs" x="232.7" y="172.0" width="3.1" height="3.1"/><rect class="bd" x="195.7" y="123.0" width="3.1" height="3.1"/><rect class="bd" x="492.1" y="157.0" width="3.1" height="3.1"/><rect class="bs" x="380.9" y="48.0" width="3.1" height="3.1"/><rect class="bd" x="158.7" y="170.9" width="3.1" height="3.1"/><circle class="rs" cx="512.1" cy="213.8" r="1.6"/><circle class="rd" cx="549.2" cy="145.7" r="1.6"/><rect class="bs" x="343.9" y="67.2" width="3.1" height="3.1"/><circle class="rs" cx="364.0" cy="206.6" r="1.6"/><circle class="rd" cx="160.2" cy="148.3" r="1.6"/><circle class="rs" cx="475.1" cy="96.3" r="1.6"/><rect class="bs" x="473.5" y="83.7" width="3.1" height="3.1"/><rect class="bd" x="547.6" y="123.3" width="3.1" height="3.1"/><circle class="rs" cx="123.2" cy="125.9" r="1.6"/><circle class="rs" cx="123.2" cy="131.4" r="1.6"/><rect class="bd" x="510.6" y="126.8" width="3.1" height="3.1"/><rect class="bs" x="436.5" y="172.1" width="3.1" height="3.1"/><circle class="rd" cx="234.3" cy="130.6" r="1.6"/><circle class="rs" cx="104.6" cy="142.5" r="1.6"/><circle class="rs" cx="567.7" cy="100.6" r="1.6"/><rect class="bd" x="343.9" y="125.2" width="3.1" height="3.1"/><circle class="rs" cx="326.9" cy="102.2" r="1.6"/><rect class="bs" x="529.1" y="94.5" width="3.1" height="3.1"/><rect class="bd" x="232.7" y="149.4" width="3.1" height="3.1"/><rect class="bd" x="269.8" y="117.7" width="3.1" height="3.1"/><rect class="bd" x="399.4" y="169.9" width="3.1" height="3.1"/><rect class="bs" x="380.9" y="50.8" width="3.1" height="3.1"/><circle class="rd" cx="252.8" cy="140.1" r="1.6"/><circle class="rd" cx="197.3" cy="158.2" r="1.6"/><rect class="bs" x="103.1" y="145.4" width="3.1" height="3.1"/><circle class="rd" cx="438.0" cy="166.8" r="1.6"/><rect class="bd" x="306.8" y="112.9" width="3.1" height="3.1"/><rect class="bs" x="492.1" y="87.5" width="3.1" height="3.1"/><circle class="rd" cx="456.6" cy="129.9" r="1.6"/><rect class="bs" x="288.3" y="181.6" width="3.1" height="3.1"/><rect class="bd" x="399.4" y="155.3" width="3.1" height="3.1"/><circle class="rd" cx="456.6" cy="163.5" r="1.6"/><rect class="bd" x="214.2" y="166.1" width="3.1" height="3.1"/><circle class="rd" cx="234.3" cy="124.1" r="1.6"/><rect class="bs" x="177.2" y="176.5" width="3.1" height="3.1"/><circle class="rd" cx="512.1" cy="116.5" r="1.6"/><rect class="bd" x="306.8" y="142.4" width="3.1" height="3.1"/><rect class="bd" x="269.8" y="168.7" width="3.1" height="3.1"/><circle class="rd" cx="364.0" cy="117.2" r="1.6"/><rect class="bs" x="306.8" y="240.2" width="3.1" height="3.1"/><rect class="bd" x="306.8" y="156.8" width="3.1" height="3.1"/><circle class="rd" cx="160.2" cy="113.4" r="1.6"/><rect class="bd" x="492.1" y="142.8" width="3.1" height="3.1"/><circle class="rd" cx="456.6" cy="147.8" r="1.6"/><rect class="bd" x="232.7" y="106.3" width="3.1" height="3.1"/><circle class="rs" cx="438.0" cy="91.0" r="1.6"/><circle class="rs" cx="493.6" cy="62.2" r="1.6"/><circle class="rd" cx="438.0" cy="136.4" r="1.6"/><circle class="rd" cx="364.0" cy="116.3" r="1.6"/><rect class="bs" x="325.4" y="99.1" width="3.1" height="3.1"/><rect class="bs" x="140.1" y="77.8" width="3.1" height="3.1"/><circle class="rd" cx="419.5" cy="123.3" r="1.6"/><circle class="rd" cx="419.5" cy="153.4" r="1.6"/><circle class="rd" cx="493.6" cy="136.2" r="1.6"/><circle class="rs" cx="326.9" cy="73.7" r="1.6"/><circle class="rd" cx="123.2" cy="160.3" r="1.6"/><circle class="rd" cx="326.9" cy="107.7" r="1.6"/><rect class="bd" x="399.4" y="122.4" width="3.1" height="3.1"/><rect class="bd" x="492.1" y="123.1" width="3.1" height="3.1"/><circle class="rs" cx="382.5" cy="102.8" r="1.6"/><circle class="rs" cx="475.1" cy="211.0" r="1.6"/><circle class="rs" cx="475.1" cy="81.9" r="1.6"/><rect class="bd" x="158.7" y="169.7" width="3.1" height="3.1"/><circle class="rs" cx="456.6" cy="176.6" r="1.6"/><circle class="rd" cx="234.3" cy="116.3" r="1.6"/><rect class="bs" x="306.8" y="190.0" width="3.1" height="3.1"/><rect class="bd" x="269.8" y="143.3" width="3.1" height="3.1"/><rect class="bd" x="380.9" y="153.3" width="3.1" height="3.1"/><rect class="bd" x="529.1" y="155.3" width="3.1" height="3.1"/><rect class="bd" x="325.4" y="113.5" width="3.1" height="3.1"/><circle class="rd" cx="364.0" cy="144.0" r="1.6"/><circle class="rs" cx="160.2" cy="105.9" r="1.6"/><rect class="bd" x="566.1" y="131.3" width="3.1" height="3.1"/><rect class="bd" x="269.8" y="139.6" width="3.1" height="3.1"/><rect class="bs" x="177.2" y="106.8" width="3.1" height="3.1"/><circle class="rd" cx="419.5" cy="150.5" r="1.6"/><rect class="bd" x="510.6" y="144.2" width="3.1" height="3.1"/><circle class="rd" cx="530.6" cy="133.8" r="1.6"/><rect class="bd" x="214.2" y="116.7" width="3.1" height="3.1"/><rect class="bs" x="232.7" y="192.1" width="3.1" height="3.1"/><rect class="bd" x="158.7" y="141.7" width="3.1" height="3.1"/><rect class="bs" x="399.4" y="60.1" width="3.1" height="3.1"/><rect class="bs" x="343.9" y="186.3" width="3.1" height="3.1"/><circle class="rd" cx="178.7" cy="131.5" r="1.6"/><rect class="bd" x="418.0" y="169.8" width="3.1" height="3.1"/><rect class="bd" x="269.8" y="159.7" width="3.1" height="3.1"/><rect class="bs" x="251.3" y="176.2" width="3.1" height="3.1"/><rect class="bd" x="418.0" y="158.9" width="3.1" height="3.1"/><circle class="rd" cx="289.9" cy="138.0" r="1.6"/><circle class="rd" cx="512.1" cy="162.9" r="1.6"/><rect class="bd" x="547.6" y="137.7" width="3.1" height="3.1"/><rect class="bd" x="251.3" y="153.4" width="3.1" height="3.1"/><circle class="rs" cx="104.6" cy="99.0" r="1.6"/><rect class="bs" x="380.9" y="210.4" width="3.1" height="3.1"/><rect class="bd" x="214.2" y="167.0" width="3.1" height="3.1"/><circle class="rd" cx="326.9" cy="120.8" r="1.6"/><circle class="rs" cx="104.6" cy="167.0" r="1.6"/><circle class="rs" cx="326.9" cy="58.3" r="1.6"/><rect class="bd" x="492.1" y="141.9" width="3.1" height="3.1"/><rect class="bs" x="325.4" y="219.0" width="3.1" height="3.1"/><rect class="bs" x="177.2" y="199.4" width="3.1" height="3.1"/><circle class="rd" cx="456.6" cy="136.0" r="1.6"/><circle class="rd" cx="252.8" cy="159.5" r="1.6"/><circle class="rs" cx="456.6" cy="174.5" r="1.6"/><circle class="rd" cx="382.5" cy="112.9" r="1.6"/><circle class="rs" cx="289.9" cy="211.8" r="1.6"/><circle class="rd" cx="215.8" cy="158.4" r="1.6"/><rect class="bd" x="288.3" y="161.2" width="3.1" height="3.1"/><rect class="bs" x="103.1" y="125.0" width="3.1" height="3.1"/><circle class="rs" cx="493.6" cy="180.0" r="1.6"/><circle class="rd" cx="271.3" cy="127.1" r="1.6"/><circle class="rd" cx="419.5" cy="166.2" r="1.6"/><rect class="bd" x="455.0" y="113.9" width="3.1" height="3.1"/><rect class="bd" x="436.5" y="120.4" width="3.1" height="3.1"/><circle class="rd" cx="401.0" cy="140.6" r="1.6"/><rect class="bs" x="325.4" y="94.6" width="3.1" height="3.1"/><rect class="bd" x="547.6" y="118.9" width="3.1" height="3.1"/><circle class="rs" cx="364.0" cy="66.6" r="1.6"/><rect class="bd" x="510.6" y="138.9" width="3.1" height="3.1"/><circle class="rd" cx="493.6" cy="147.5" r="1.6"/><rect class="bs" x="177.2" y="177.7" width="3.1" height="3.1"/><circle class="rd" cx="271.3" cy="112.2" r="1.6"/><circle class="rs" cx="252.8" cy="175.6" r="1.6"/><rect class="bd" x="288.3" y="121.8" width="3.1" height="3.1"/><circle class="rs" cx="438.0" cy="197.0" r="1.6"/><circle class="rd" cx="197.3" cy="160.4" r="1.6"/><rect class="bs" x="399.4" y="61.8" width="3.1" height="3.1"/><rect class="bd" x="325.4" y="109.7" width="3.1" height="3.1"/><rect class="bs" x="251.3" y="191.1" width="3.1" height="3.1"/><circle class="rd" cx="141.7" cy="136.0" r="1.6"/><circle class="rd" cx="549.2" cy="138.4" r="1.6"/><rect class="bs" x="306.8" y="229.6" width="3.1" height="3.1"/><rect class="bd" x="473.5" y="107.6" width="3.1" height="3.1"/><circle class="rd" cx="252.8" cy="142.6" r="1.6"/><circle class="rs" cx="567.7" cy="153.8" r="1.6"/><circle class="rd" cx="289.9" cy="130.5" r="1.6"/><rect class="bs" x="492.1" y="182.2" width="3.1" height="3.1"/><rect class="bs" x="325.4" y="171.3" width="3.1" height="3.1"/><rect class="bd" x="343.9" y="115.0" width="3.1" height="3.1"/><circle class="rs" cx="215.8" cy="189.9" r="1.6"/><rect class="bs" x="603.2" y="152.6" width="3.1" height="3.1"/><rect class="bs" x="140.1" y="81.5" width="3.1" height="3.1"/><rect class="bd" x="214.2" y="169.1" width="3.1" height="3.1"/><rect class="bs" x="306.8" y="172.1" width="3.1" height="3.1"/><circle class="rd" cx="289.9" cy="141.0" r="1.6"/><circle class="rs" cx="234.3" cy="195.4" r="1.6"/><circle class="rd" cx="160.2" cy="169.7" r="1.6"/><circle class="rs" cx="456.6" cy="199.2" r="1.6"/><rect class="bd" x="214.2" y="138.2" width="3.1" height="3.1"/><circle class="rs" cx="326.9" cy="103.3" r="1.6"/><rect class="bd" x="214.2" y="114.5" width="3.1" height="3.1"/><circle class="rd" cx="512.1" cy="122.8" r="1.6"/><circle class="rs" cx="104.6" cy="104.0" r="1.6"/><rect class="bs" x="251.3" y="116.5" width="3.1" height="3.1"/><rect class="bs" x="325.4" y="209.7" width="3.1" height="3.1"/><rect class="bs" x="473.5" y="249.4" width="3.1" height="3.1"/><circle class="rd" cx="178.7" cy="146.9" r="1.6"/><circle class="rs" cx="475.1" cy="218.4" r="1.6"/><rect class="bd" x="418.0" y="157.7" width="3.1" height="3.1"/><circle class="rd" cx="123.2" cy="146.6" r="1.6"/><rect class="bd" x="325.4" y="111.0" width="3.1" height="3.1"/><rect class="bd" x="399.4" y="159.0" width="3.1" height="3.1"/><rect class="bd" x="325.4" y="137.3" width="3.1" height="3.1"/><rect class="bd" x="158.7" y="158.9" width="3.1" height="3.1"/><circle class="rd" cx="308.4" cy="140.1" r="1.6"/><rect class="bs" x="418.0" y="85.1" width="3.1" height="3.1"/><rect class="bs" x="380.9" y="206.1" width="3.1" height="3.1"/><rect class="bs" x="251.3" y="217.4" width="3.1" height="3.1"/><circle class="rd" cx="456.6" cy="137.3" r="1.6"/><circle class="rd" cx="493.6" cy="108.9" r="1.6"/><circle class="rd" cx="178.7" cy="172.3" r="1.6"/><rect class="bs" x="473.5" y="87.3" width="3.1" height="3.1"/><circle class="rd" cx="252.8" cy="162.4" r="1.6"/><rect class="bd" x="455.0" y="168.7" width="3.1" height="3.1"/><circle class="rd" cx="456.6" cy="172.2" r="1.6"/><circle class="rd" cx="141.7" cy="139.8" r="1.6"/><rect class="bs" x="66.0" y="175.3" width="3.1" height="3.1"/><circle class="rd" cx="215.8" cy="130.6" r="1.6"/><rect class="bs" x="418.0" y="208.6" width="3.1" height="3.1"/><circle class="rd" cx="178.7" cy="166.0" r="1.6"/><circle class="rd" cx="438.0" cy="159.4" r="1.6"/><rect class="bd" x="140.1" y="161.0" width="3.1" height="3.1"/><rect class="bd" x="343.9" y="138.3" width="3.1" height="3.1"/><circle class="rd" cx="475.1" cy="159.9" r="1.6"/><circle class="rs" cx="234.3" cy="228.6" r="1.6"/><circle class="rd" cx="345.4" cy="141.6" r="1.6"/><rect class="bd" x="418.0" y="145.1" width="3.1" height="3.1"/><rect class="bd" x="380.9" y="145.1" width="3.1" height="3.1"/><circle class="rd" cx="308.4" cy="160.5" r="1.6"/><circle class="rd" cx="364.0" cy="144.8" r="1.6"/><circle class="rd" cx="382.5" cy="124.5" r="1.6"/><circle class="rd" cx="271.3" cy="146.0" r="1.6"/><circle class="rd" cx="234.3" cy="146.1" r="1.6"/><circle class="rs" cx="419.5" cy="174.3" r="1.6"/><rect class="bs" x="529.1" y="172.6" width="3.1" height="3.1"/><circle class="rs" cx="604.7" cy="134.0" r="1.6"/><rect class="bd" x="510.6" y="122.1" width="3.1" height="3.1"/><circle class="rd" cx="326.9" cy="141.2" r="1.6"/><rect class="bd" x="306.8" y="118.4" width="3.1" height="3.1"/><rect class="bd" x="195.7" y="122.1" width="3.1" height="3.1"/><circle class="rs" cx="567.7" cy="160.4" r="1.6"/><rect class="bs" x="362.4" y="186.6" width="3.1" height="3.1"/><circle class="rd" cx="123.2" cy="159.2" r="1.6"/><circle class="rs" cx="197.3" cy="101.7" r="1.6"/><circle class="rd" cx="345.4" cy="151.6" r="1.6"/><rect class="bd" x="436.5" y="146.9" width="3.1" height="3.1"/><rect class="bs" x="306.8" y="195.4" width="3.1" height="3.1"/><rect class="bd" x="288.3" y="151.3" width="3.1" height="3.1"/><circle class="rs" cx="382.5" cy="85.6" r="1.6"/><circle class="rs" cx="86.1" cy="163.7" r="1.6"/><rect class="bd" x="473.5" y="140.1" width="3.1" height="3.1"/><rect class="bs" x="103.1" y="116.0" width="3.1" height="3.1"/><rect class="bs" x="473.5" y="184.1" width="3.1" height="3.1"/><circle class="rs" cx="623.3" cy="127.0" r="1.6"/><circle class="rd" cx="326.9" cy="123.9" r="1.6"/><circle class="rd" cx="493.6" cy="145.9" r="1.6"/><rect class="bs" x="140.1" y="128.8" width="3.1" height="3.1"/><rect class="bd" x="436.5" y="126.1" width="3.1" height="3.1"/><rect class="bd" x="251.3" y="122.5" width="3.1" height="3.1"/><rect class="bs" x="436.5" y="73.7" width="3.1" height="3.1"/><circle class="rd" cx="123.2" cy="142.2" r="1.6"/><circle class="rd" cx="530.6" cy="140.8" r="1.6"/><rect class="bd" x="343.9" y="119.9" width="3.1" height="3.1"/><rect class="bs" x="288.3" y="180.1" width="3.1" height="3.1"/><rect class="bd" x="436.5" y="154.2" width="3.1" height="3.1"/><circle class="rs" cx="308.4" cy="180.3" r="1.6"/><circle class="rd" cx="438.0" cy="170.0" r="1.6"/><rect class="bs" x="492.1" y="92.2" width="3.1" height="3.1"/><circle class="rd" cx="419.5" cy="120.4" r="1.6"/><circle class="rd" cx="382.5" cy="119.4" r="1.6"/><rect class="bs" x="306.8" y="71.0" width="3.1" height="3.1"/><rect class="bs" x="232.7" y="74.9" width="3.1" height="3.1"/><rect class="bd" x="473.5" y="113.3" width="3.1" height="3.1"/><circle class="rd" cx="438.0" cy="113.4" r="1.6"/><rect class="bd" x="529.1" y="170.6" width="3.1" height="3.1"/><rect class="bs" x="510.6" y="196.2" width="3.1" height="3.1"/><circle class="rd" cx="512.1" cy="170.1" r="1.6"/><circle class="rs" cx="289.9" cy="64.4" r="1.6"/><circle class="rs" cx="419.5" cy="197.7" r="1.6"/><rect class="bd" x="269.8" y="169.5" width="3.1" height="3.1"/><circle class="rs" cx="178.7" cy="120.0" r="1.6"/><rect class="bd" x="492.1" y="124.8" width="3.1" height="3.1"/><circle class="rd" cx="308.4" cy="168.8" r="1.6"/><circle class="rs" cx="382.5" cy="199.7" r="1.6"/><circle class="rd" cx="345.4" cy="147.7" r="1.6"/><circle class="rs" cx="364.0" cy="247.0" r="1.6"/><circle class="rd" cx="326.9" cy="167.5" r="1.6"/><circle class="rs" cx="141.7" cy="108.3" r="1.6"/><circle class="rd" cx="345.4" cy="109.1" r="1.6"/><rect class="bs" x="455.0" y="91.4" width="3.1" height="3.1"/><rect class="bs" x="492.1" y="191.6" width="3.1" height="3.1"/><rect class="bd" x="529.1" y="121.7" width="3.1" height="3.1"/><rect class="bd" x="380.9" y="124.7" width="3.1" height="3.1"/><rect class="bs" x="269.8" y="198.4" width="3.1" height="3.1"/><circle class="rd" cx="160.2" cy="161.9" r="1.6"/><rect class="bs" x="418.0" y="174.0" width="3.1" height="3.1"/><circle class="rd" cx="160.2" cy="118.8" r="1.6"/><circle class="rs" cx="493.6" cy="104.4" r="1.6"/><rect class="bs" x="306.8" y="203.2" width="3.1" height="3.1"/><circle class="rs" cx="326.9" cy="190.5" r="1.6"/><rect class="bs" x="473.5" y="189.8" width="3.1" height="3.1"/><rect class="bs" x="214.2" y="229.2" width="3.1" height="3.1"/><rect class="bs" x="306.8" y="175.7" width="3.1" height="3.1"/><rect class="bs" x="232.7" y="95.8" width="3.1" height="3.1"/><rect class="bs" x="343.9" y="27.8" width="3.1" height="3.1"/><rect class="bd" x="362.4" y="158.9" width="3.1" height="3.1"/><rect class="bd" x="325.4" y="117.2" width="3.1" height="3.1"/><rect class="bs" x="418.0" y="87.7" width="3.1" height="3.1"/><rect class="bd" x="362.4" y="170.8" width="3.1" height="3.1"/><circle class="rd" cx="234.3" cy="118.3" r="1.6"/><rect class="bd" x="362.4" y="138.9" width="3.1" height="3.1"/><circle class="rd" cx="308.4" cy="126.0" r="1.6"/><circle class="rd" cx="419.5" cy="168.0" r="1.6"/><circle class="rd" cx="456.6" cy="127.2" r="1.6"/><circle class="rd" cx="345.4" cy="157.0" r="1.6"/><rect class="bs" x="177.2" y="105.2" width="3.1" height="3.1"/><rect class="bd" x="380.9" y="121.9" width="3.1" height="3.1"/><circle class="rd" cx="364.0" cy="139.1" r="1.6"/><circle class="rs" cx="160.2" cy="94.0" r="1.6"/><rect class="bd" x="121.6" y="159.7" width="3.1" height="3.1"/><circle class="rd" cx="308.4" cy="157.0" r="1.6"/><rect class="bd" x="177.2" y="139.5" width="3.1" height="3.1"/><rect class="bd" x="288.3" y="120.9" width="3.1" height="3.1"/><circle class="rd" cx="456.6" cy="116.3" r="1.6"/><rect class="bs" x="362.4" y="187.9" width="3.1" height="3.1"/><circle class="rd" cx="419.5" cy="137.0" r="1.6"/><rect class="bs" x="380.9" y="219.8" width="3.1" height="3.1"/><circle class="rs" cx="401.0" cy="92.9" r="1.6"/><circle class="rd" cx="549.2" cy="133.4" r="1.6"/><rect class="bs" x="343.9" y="173.2" width="3.1" height="3.1"/><rect class="bd" x="362.4" y="129.0" width="3.1" height="3.1"/><circle class="rd" cx="382.5" cy="117.7" r="1.6"/><circle class="rd" cx="215.8" cy="131.7" r="1.6"/><circle class="rd" cx="289.9" cy="166.8" r="1.6"/><rect class="bd" x="380.9" y="154.8" width="3.1" height="3.1"/><rect class="bd" x="269.8" y="157.3" width="3.1" height="3.1"/><circle class="rs" cx="438.0" cy="182.2" r="1.6"/><rect class="bd" x="269.8" y="130.5" width="3.1" height="3.1"/><rect class="bd" x="325.4" y="165.0" width="3.1" height="3.1"/><circle class="rd" cx="493.6" cy="162.3" r="1.6"/><circle class="rs" cx="197.3" cy="223.5" r="1.6"/><circle class="rd" cx="271.3" cy="142.6" r="1.6"/><rect class="bs" x="232.7" y="69.9" width="3.1" height="3.1"/><rect class="bs" x="103.1" y="179.0" width="3.1" height="3.1"/><circle class="rd" cx="456.6" cy="125.5" r="1.6"/><rect class="bd" x="566.1" y="142.3" width="3.1" height="3.1"/><rect class="bd" x="492.1" y="162.4" width="3.1" height="3.1"/><rect class="bd" x="195.7" y="171.1" width="3.1" height="3.1"/><rect class="bd" x="418.0" y="171.1" width="3.1" height="3.1"/><rect class="bs" x="103.1" y="98.5" width="3.1" height="3.1"/><rect class="bd" x="399.4" y="166.9" width="3.1" height="3.1"/><circle class="rs" cx="364.0" cy="101.4" r="1.6"/><rect class="bd" x="158.7" y="152.2" width="3.1" height="3.1"/><circle class="rs" cx="141.7" cy="215.0" r="1.6"/><rect class="bd" x="510.6" y="149.0" width="3.1" height="3.1"/><circle class="rd" cx="419.5" cy="152.8" r="1.6"/><circle class="rs" cx="289.9" cy="200.0" r="1.6"/><circle class="rs" cx="530.6" cy="190.0" r="1.6"/><circle class="rd" cx="215.8" cy="145.1" r="1.6"/><rect class="bs" x="399.4" y="172.0" width="3.1" height="3.1"/><circle class="rs" cx="493.6" cy="97.7" r="1.6"/><circle class="rd" cx="549.2" cy="140.1" r="1.6"/><circle class="rd" cx="493.6" cy="145.2" r="1.6"/><circle class="rd" cx="456.6" cy="112.7" r="1.6"/><rect class="bd" x="510.6" y="150.3" width="3.1" height="3.1"/><rect class="bs" x="306.8" y="173.9" width="3.1" height="3.1"/><circle class="rs" cx="493.6" cy="189.4" r="1.6"/><rect class="bd" x="455.0" y="163.1" width="3.1" height="3.1"/><rect class="bd" x="214.2" y="141.4" width="3.1" height="3.1"/><rect class="bd" x="251.3" y="146.6" width="3.1" height="3.1"/><rect class="bd" x="140.1" y="156.0" width="3.1" height="3.1"/><circle class="rd" cx="234.3" cy="123.5" r="1.6"/><rect class="bd" x="380.9" y="125.5" width="3.1" height="3.1"/><rect class="bs" x="214.2" y="171.8" width="3.1" height="3.1"/><rect class="bd" x="343.9" y="170.7" width="3.1" height="3.1"/><circle class="rs" cx="86.1" cy="169.2" r="1.6"/><rect class="bs" x="399.4" y="213.4" width="3.1" height="3.1"/><rect class="bs" x="584.7" y="103.5" width="3.1" height="3.1"/><rect class="bs" x="380.9" y="9.4" width="3.1" height="3.1"/><circle class="rs" cx="345.4" cy="101.7" r="1.6"/><rect class="bd" x="455.0" y="164.8" width="3.1" height="3.1"/><rect class="bs" x="566.1" y="180.8" width="3.1" height="3.1"/><rect class="bd" x="362.4" y="146.0" width="3.1" height="3.1"/><circle class="rs" cx="475.1" cy="179.2" r="1.6"/><rect class="bs" x="177.2" y="263.6" width="3.1" height="3.1"/><circle class="rs" cx="308.4" cy="181.7" r="1.6"/><circle class="rd" cx="456.6" cy="149.3" r="1.6"/><circle class="rd" cx="419.5" cy="126.5" r="1.6"/><rect class="bs" x="362.4" y="83.2" width="3.1" height="3.1"/><rect class="bd" x="492.1" y="108.1" width="3.1" height="3.1"/><rect class="bs" x="195.7" y="172.9" width="3.1" height="3.1"/><rect class="bs" x="288.3" y="85.9" width="3.1" height="3.1"/><circle class="rd" cx="512.1" cy="165.7" r="1.6"/><rect class="bs" x="269.8" y="190.4" width="3.1" height="3.1"/><circle class="rd" cx="345.4" cy="144.3" r="1.6"/><rect class="bd" x="418.0" y="134.2" width="3.1" height="3.1"/><circle class="rd" cx="234.3" cy="134.6" r="1.6"/><rect class="bs" x="436.5" y="200.4" width="3.1" height="3.1"/><rect class="bd" x="436.5" y="134.0" width="3.1" height="3.1"/><circle class="rd" cx="160.2" cy="127.3" r="1.6"/><circle class="rd" cx="308.4" cy="164.3" r="1.6"/><circle class="rd" cx="308.4" cy="113.1" r="1.6"/><rect class="bd" x="418.0" y="110.7" width="3.1" height="3.1"/><rect class="bd" x="195.7" y="143.9" width="3.1" height="3.1"/><rect class="bs" x="325.4" y="175.7" width="3.1" height="3.1"/><circle class="rd" cx="493.6" cy="153.3" r="1.6"/><rect class="bd" x="436.5" y="156.0" width="3.1" height="3.1"/><circle class="rd" cx="326.9" cy="148.6" r="1.6"/><rect class="bd" x="380.9" y="140.6" width="3.1" height="3.1"/><rect class="bd" x="492.1" y="131.3" width="3.1" height="3.1"/><rect class="bs" x="362.4" y="197.7" width="3.1" height="3.1"/><rect class="bd" x="547.6" y="149.6" width="3.1" height="3.1"/><rect class="bd" x="473.5" y="143.8" width="3.1" height="3.1"/><rect class="bs" x="343.9" y="198.4" width="3.1" height="3.1"/><rect class="bd" x="473.5" y="153.0" width="3.1" height="3.1"/><rect class="bd" x="380.9" y="164.1" width="3.1" height="3.1"/><rect class="bd" x="232.7" y="133.8" width="3.1" height="3.1"/><rect class="bd" x="418.0" y="127.8" width="3.1" height="3.1"/><circle class="rs" cx="252.8" cy="57.6" r="1.6"/><circle class="rd" cx="271.3" cy="109.0" r="1.6"/><rect class="bd" x="306.8" y="168.1" width="3.1" height="3.1"/><rect class="bd" x="251.3" y="144.2" width="3.1" height="3.1"/><circle class="rd" cx="364.0" cy="168.2" r="1.6"/><rect class="bs" x="380.9" y="186.1" width="3.1" height="3.1"/><rect class="bs" x="510.6" y="179.6" width="3.1" height="3.1"/><circle class="rd" cx="512.1" cy="114.1" r="1.6"/><rect class="bd" x="195.7" y="133.2" width="3.1" height="3.1"/><circle class="rd" cx="123.2" cy="145.1" r="1.6"/><circle class="rd" cx="419.5" cy="138.5" r="1.6"/><rect class="bs" x="195.7" y="190.8" width="3.1" height="3.1"/><circle class="rd" cx="141.7" cy="151.0" r="1.6"/><circle class="rs" cx="382.5" cy="184.7" r="1.6"/><circle class="rs" cx="604.7" cy="119.3" r="1.6"/><rect class="bd" x="510.6" y="137.9" width="3.1" height="3.1"/><circle class="rs" cx="234.3" cy="84.0" r="1.6"/><rect class="bd" x="195.7" y="138.1" width="3.1" height="3.1"/><rect class="bs" x="584.7" y="129.8" width="3.1" height="3.1"/><circle class="rd" cx="475.1" cy="157.2" r="1.6"/><rect class="bd" x="380.9" y="168.0" width="3.1" height="3.1"/><circle class="rd" cx="252.8" cy="127.3" r="1.6"/><circle class="rs" cx="252.8" cy="215.8" r="1.6"/><circle class="rs" cx="604.7" cy="140.6" r="1.6"/><rect class="bs" x="455.0" y="192.0" width="3.1" height="3.1"/><rect class="bd" x="288.3" y="144.0" width="3.1" height="3.1"/><rect class="bs" x="603.2" y="165.4" width="3.1" height="3.1"/><rect class="bd" x="362.4" y="121.2" width="3.1" height="3.1"/><rect class="bs" x="380.9" y="175.9" width="3.1" height="3.1"/><rect class="bs" x="251.3" y="192.9" width="3.1" height="3.1"/><circle class="rs" cx="364.0" cy="176.7" r="1.6"/><rect class="bs" x="251.3" y="103.5" width="3.1" height="3.1"/><circle class="rs" cx="475.1" cy="204.9" r="1.6"/><circle class="rd" cx="234.3" cy="107.0" r="1.6"/><rect class="bs" x="455.0" y="178.4" width="3.1" height="3.1"/><circle class="rd" cx="401.0" cy="152.2" r="1.6"/><circle class="rd" cx="215.8" cy="125.7" r="1.6"/><circle class="rd" cx="530.6" cy="144.3" r="1.6"/><rect class="bd" x="232.7" y="140.3" width="3.1" height="3.1"/><circle class="rs" cx="382.5" cy="78.6" r="1.6"/><circle class="rs" cx="549.2" cy="93.6" r="1.6"/><circle class="rd" cx="197.3" cy="112.7" r="1.6"/><circle class="rs" cx="271.3" cy="79.7" r="1.6"/><rect class="bd" x="399.4" y="119.1" width="3.1" height="3.1"/><circle class="rs" cx="493.6" cy="210.6" r="1.6"/><circle class="rd" cx="382.5" cy="149.1" r="1.6"/><rect class="bs" x="510.6" y="283.1" width="3.1" height="3.1"/><rect class="bd" x="510.6" y="136.3" width="3.1" height="3.1"/><circle class="rd" cx="530.6" cy="127.1" r="1.6"/><rect class="bd" x="325.4" y="112.1" width="3.1" height="3.1"/><circle class="rd" cx="345.4" cy="115.4" r="1.6"/><rect class="bd" x="269.8" y="127.4" width="3.1" height="3.1"/><rect class="bd" x="195.7" y="161.2" width="3.1" height="3.1"/><circle class="rd" cx="438.0" cy="163.7" r="1.6"/><circle class="rd" cx="382.5" cy="164.0" r="1.6"/><circle class="rs" cx="586.2" cy="137.5" r="1.6"/><rect class="bs" x="306.8" y="186.5" width="3.1" height="3.1"/><rect class="bd" x="214.2" y="165.3" width="3.1" height="3.1"/><rect class="bd" x="158.7" y="109.4" width="3.1" height="3.1"/><circle class="rd" cx="178.7" cy="153.5" r="1.6"/><rect class="bs" x="455.0" y="179.7" width="3.1" height="3.1"/><circle class="rd" cx="271.3" cy="149.1" r="1.6"/><rect class="bd" x="343.9" y="159.4" width="3.1" height="3.1"/><circle class="rd" cx="493.6" cy="155.5" r="1.6"/><rect class="bd" x="177.2" y="135.3" width="3.1" height="3.1"/><rect class="bd" x="158.7" y="116.1" width="3.1" height="3.1"/><rect class="bs" x="288.3" y="193.6" width="3.1" height="3.1"/><rect class="bs" x="529.1" y="108.2" width="3.1" height="3.1"/><rect class="bs" x="325.4" y="179.3" width="3.1" height="3.1"/><circle class="rs" cx="308.4" cy="67.5" r="1.6"/><circle class="rd" cx="271.3" cy="155.3" r="1.6"/><rect class="bs" x="343.9" y="196.7" width="3.1" height="3.1"/><rect class="bd" x="288.3" y="168.7" width="3.1" height="3.1"/><circle class="rs" cx="123.2" cy="210.5" r="1.6"/><rect class="bd" x="343.9" y="163.4" width="3.1" height="3.1"/><rect class="bs" x="343.9" y="175.9" width="3.1" height="3.1"/><rect class="bs" x="418.0" y="91.2" width="3.1" height="3.1"/><rect class="bd" x="529.1" y="129.3" width="3.1" height="3.1"/><circle class="rd" cx="382.5" cy="145.2" r="1.6"/><circle class="rs" cx="326.9" cy="65.3" r="1.6"/><rect class="bd" x="232.7" y="108.1" width="3.1" height="3.1"/><circle class="rd" cx="252.8" cy="160.7" r="1.6"/><circle class="rd" cx="475.1" cy="133.9" r="1.6"/><rect class="bs" x="232.7" y="196.0" width="3.1" height="3.1"/><circle class="rd" cx="326.9" cy="140.4" r="1.6"/><rect class="bd" x="251.3" y="121.9" width="3.1" height="3.1"/><circle class="rd" cx="456.6" cy="152.5" r="1.6"/><rect class="bd" x="418.0" y="118.1" width="3.1" height="3.1"/><circle class="rd" cx="438.0" cy="145.7" r="1.6"/><circle class="rs" cx="289.9" cy="93.4" r="1.6"/><circle class="rd" cx="345.4" cy="137.7" r="1.6"/><rect class="bd" x="492.1" y="113.9" width="3.1" height="3.1"/><rect class="bd" x="455.0" y="132.6" width="3.1" height="3.1"/><rect class="bd" x="251.3" y="134.5" width="3.1" height="3.1"/><rect class="bd" x="473.5" y="168.4" width="3.1" height="3.1"/><rect class="bd" x="418.0" y="116.9" width="3.1" height="3.1"/><rect class="bd" x="232.7" y="159.6" width="3.1" height="3.1"/><rect class="bs" x="269.8" y="83.7" width="3.1" height="3.1"/><rect class="bd" x="547.6" y="140.9" width="3.1" height="3.1"/><rect class="bs" x="418.0" y="240.2" width="3.1" height="3.1"/><rect class="bs" x="158.7" y="175.3" width="3.1" height="3.1"/><circle class="rs" cx="271.3" cy="24.2" r="1.6"/><circle class="rs" cx="530.6" cy="56.1" r="1.6"/><rect class="bd" x="492.1" y="116.4" width="3.1" height="3.1"/><circle class="rd" cx="438.0" cy="112.6" r="1.6"/><circle class="rs" cx="215.8" cy="107.2" r="1.6"/><circle class="rd" cx="382.5" cy="130.1" r="1.6"/><rect class="bd" x="325.4" y="162.2" width="3.1" height="3.1"/><rect class="bd" x="251.3" y="147.4" width="3.1" height="3.1"/><rect class="bs" x="492.1" y="176.4" width="3.1" height="3.1"/><circle class="rd" cx="197.3" cy="170.3" r="1.6"/><rect class="bd" x="547.6" y="121.3" width="3.1" height="3.1"/><rect class="bd" x="158.7" y="151.1" width="3.1" height="3.1"/><rect class="bd" x="325.4" y="150.8" width="3.1" height="3.1"/><circle class="rd" cx="234.3" cy="160.4" r="1.6"/><rect class="bs" x="510.6" y="91.4" width="3.1" height="3.1"/><circle class="rd" cx="197.3" cy="114.1" r="1.6"/><circle class="rs" cx="364.0" cy="105.1" r="1.6"/><circle class="rd" cx="493.6" cy="139.5" r="1.6"/><circle class="rd" cx="438.0" cy="165.8" r="1.6"/><circle class="rs" cx="549.2" cy="218.5" r="1.6"/><rect class="bd" x="158.7" y="164.7" width="3.1" height="3.1"/><rect class="bd" x="436.5" y="143.3" width="3.1" height="3.1"/><circle class="rs" cx="271.3" cy="185.2" r="1.6"/><rect class="bs" x="158.7" y="180.4" width="3.1" height="3.1"/><rect class="bd" x="436.5" y="108.9" width="3.1" height="3.1"/><rect class="bs" x="455.0" y="201.8" width="3.1" height="3.1"/><rect class="bd" x="269.8" y="105.7" width="3.1" height="3.1"/><rect class="bd" x="158.7" y="137.6" width="3.1" height="3.1"/><circle class="rs" cx="141.7" cy="122.0" r="1.6"/><rect class="bd" x="325.4" y="158.2" width="3.1" height="3.1"/><rect class="bd" x="121.6" y="136.5" width="3.1" height="3.1"/><rect class="bd" x="140.1" y="162.5" width="3.1" height="3.1"/><circle class="rd" cx="493.6" cy="141.6" r="1.6"/><circle class="rs" cx="586.2" cy="194.5" r="1.6"/><circle class="rs" cx="104.6" cy="195.1" r="1.6"/><circle class="rd" cx="512.1" cy="117.3" r="1.6"/><rect class="bd" x="510.6" y="133.6" width="3.1" height="3.1"/><rect class="bs" x="362.4" y="92.9" width="3.1" height="3.1"/><circle class="rs" cx="364.0" cy="98.1" r="1.6"/><rect class="bd" x="418.0" y="125.6" width="3.1" height="3.1"/><rect class="bd" x="380.9" y="114.5" width="3.1" height="3.1"/><circle class="rd" cx="160.2" cy="133.0" r="1.6"/><rect class="bd" x="436.5" y="153.3" width="3.1" height="3.1"/><circle class="rd" cx="326.9" cy="144.8" r="1.6"/><rect class="bs" x="362.4" y="252.0" width="3.1" height="3.1"/><circle class="rd" cx="475.1" cy="118.2" r="1.6"/><rect class="bs" x="510.6" y="178.0" width="3.1" height="3.1"/><rect class="bs" x="473.5" y="103.4" width="3.1" height="3.1"/><rect class="bs" x="177.2" y="264.6" width="3.1" height="3.1"/><circle class="rd" cx="475.1" cy="107.9" r="1.6"/><circle class="rd" cx="178.7" cy="144.0" r="1.6"/><rect class="bs" x="566.1" y="147.6" width="3.1" height="3.1"/><rect class="bs" x="510.6" y="181.6" width="3.1" height="3.1"/><circle class="rs" cx="401.0" cy="98.0" r="1.6"/><rect class="bs" x="492.1" y="196.3" width="3.1" height="3.1"/><circle class="rs" cx="493.6" cy="225.7" r="1.6"/><circle class="rs" cx="234.3" cy="101.1" r="1.6"/><rect class="bs" x="436.5" y="52.4" width="3.1" height="3.1"/><rect class="bd" x="158.7" y="150.2" width="3.1" height="3.1"/><circle class="rd" cx="160.2" cy="131.6" r="1.6"/><rect class="bs" x="621.7" y="143.2" width="3.1" height="3.1"/><rect class="bs" x="195.7" y="194.4" width="3.1" height="3.1"/><rect class="bs" x="473.5" y="179.5" width="3.1" height="3.1"/><rect class="bd" x="214.2" y="155.8" width="3.1" height="3.1"/><circle class="rd" cx="123.2" cy="147.9" r="1.6"/><rect class="bs" x="547.6" y="194.4" width="3.1" height="3.1"/><rect class="bd" x="455.0" y="123.1" width="3.1" height="3.1"/><circle class="rd" cx="549.2" cy="144.2" r="1.6"/><rect class="bd" x="566.1" y="141.6" width="3.1" height="3.1"/><circle class="rs" cx="345.4" cy="193.0" r="1.6"/><circle class="rs" cx="512.1" cy="203.3" r="1.6"/><rect class="bs" x="343.9" y="178.6" width="3.1" height="3.1"/><circle class="rs" cx="289.9" cy="173.9" r="1.6"/><rect class="bs" x="343.9" y="230.0" width="3.1" height="3.1"/><rect class="bd" x="214.2" y="151.4" width="3.1" height="3.1"/><circle class="rd" cx="364.0" cy="149.2" r="1.6"/><circle class="rd" cx="289.9" cy="146.5" r="1.6"/><rect class="bs" x="288.3" y="191.1" width="3.1" height="3.1"/><rect class="bd" x="158.7" y="165.6" width="3.1" height="3.1"/><circle class="rd" cx="345.4" cy="127.3" r="1.6"/><rect class="bd" x="436.5" y="167.4" width="3.1" height="3.1"/><rect class="bd" x="473.5" y="170.8" width="3.1" height="3.1"/><circle class="rd" cx="326.9" cy="122.7" r="1.6"/><rect class="bd" x="325.4" y="126.6" width="3.1" height="3.1"/><rect class="bs" x="214.2" y="195.5" width="3.1" height="3.1"/><circle class="rd" cx="178.7" cy="159.6" r="1.6"/><circle class="rd" cx="252.8" cy="153.5" r="1.6"/><circle class="rs" cx="308.4" cy="102.4" r="1.6"/><circle class="rs" cx="141.7" cy="97.3" r="1.6"/><rect class="bd" x="436.5" y="130.1" width="3.1" height="3.1"/><rect class="bd" x="232.7" y="139.1" width="3.1" height="3.1"/><circle class="rd" cx="345.4" cy="148.5" r="1.6"/><circle class="rd" cx="215.8" cy="122.6" r="1.6"/><circle class="rs" cx="326.9" cy="87.4" r="1.6"/><circle class="rd" cx="326.9" cy="156.5" r="1.6"/><rect class="bs" x="436.5" y="99.2" width="3.1" height="3.1"/><rect class="bs" x="195.7" y="208.3" width="3.1" height="3.1"/><circle class="rs" cx="345.4" cy="63.8" r="1.6"/><rect class="bd" x="288.3" y="135.5" width="3.1" height="3.1"/><circle class="rd" cx="234.3" cy="120.3" r="1.6"/><rect class="bs" x="436.5" y="193.7" width="3.1" height="3.1"/><circle class="rd" cx="289.9" cy="124.0" r="1.6"/><rect class="bd" x="399.4" y="115.6" width="3.1" height="3.1"/><rect class="bd" x="362.4" y="163.9" width="3.1" height="3.1"/><circle class="rs" cx="326.9" cy="225.7" r="1.6"/><rect class="bs" x="325.4" y="103.1" width="3.1" height="3.1"/><rect class="bd" x="158.7" y="162.3" width="3.1" height="3.1"/><circle class="rd" cx="197.3" cy="121.0" r="1.6"/><circle class="rd" cx="326.9" cy="133.4" r="1.6"/><rect class="bs" x="418.0" y="70.2" width="3.1" height="3.1"/><rect class="bs" x="121.6" y="109.0" width="3.1" height="3.1"/><circle class="rs" cx="512.1" cy="98.4" r="1.6"/><rect class="bs" x="492.1" y="180.6" width="3.1" height="3.1"/><rect class="bs" x="362.4" y="178.0" width="3.1" height="3.1"/><circle class="rd" cx="438.0" cy="139.4" r="1.6"/><circle class="rs" cx="252.8" cy="116.1" r="1.6"/><rect class="bd" x="288.3" y="149.0" width="3.1" height="3.1"/><rect class="bd" x="306.8" y="115.6" width="3.1" height="3.1"/><circle class="rd" cx="401.0" cy="172.3" r="1.6"/><circle class="rd" cx="234.3" cy="153.7" r="1.6"/><rect class="bd" x="473.5" y="114.2" width="3.1" height="3.1"/><rect class="bd" x="418.0" y="140.3" width="3.1" height="3.1"/><circle class="rd" cx="308.4" cy="159.0" r="1.6"/><rect class="bs" x="380.9" y="188.4" width="3.1" height="3.1"/><rect class="bs" x="251.3" y="101.2" width="3.1" height="3.1"/><circle class="rd" cx="234.3" cy="138.5" r="1.6"/><circle class="rd" cx="345.4" cy="136.3" r="1.6"/><circle class="rd" cx="512.1" cy="126.1" r="1.6"/><rect class="bs" x="362.4" y="41.4" width="3.1" height="3.1"/><circle class="rd" cx="493.6" cy="157.2" r="1.6"/><rect class="bd" x="399.4" y="133.4" width="3.1" height="3.1"/><circle class="rs" cx="141.7" cy="117.2" r="1.6"/><rect class="bs" x="529.1" y="209.4" width="3.1" height="3.1"/><rect class="bs" x="288.3" y="174.5" width="3.1" height="3.1"/><circle class="rd" cx="160.2" cy="140.8" r="1.6"/><circle class="rd" cx="123.2" cy="151.4" r="1.6"/><circle class="rd" cx="401.0" cy="152.8" r="1.6"/><circle class="rs" cx="382.5" cy="218.0" r="1.6"/><circle class="rd" cx="438.0" cy="134.0" r="1.6"/><rect class="bd" x="380.9" y="166.4" width="3.1" height="3.1"/><circle class="rd" cx="493.6" cy="127.0" r="1.6"/><circle class="rd" cx="475.1" cy="136.6" r="1.6"/><rect class="bd" x="214.2" y="127.6" width="3.1" height="3.1"/><rect class="bd" x="269.8" y="142.2" width="3.1" height="3.1"/><circle class="rs" cx="178.7" cy="87.4" r="1.6"/><rect class="bs" x="288.3" y="188.0" width="3.1" height="3.1"/><rect class="bs" x="436.5" y="188.8" width="3.1" height="3.1"/><rect class="bd" x="418.0" y="142.1" width="3.1" height="3.1"/><rect class="bs" x="418.0" y="94.3" width="3.1" height="3.1"/><rect class="bs" x="492.1" y="101.2" width="3.1" height="3.1"/><rect class="bs" x="455.0" y="83.5" width="3.1" height="3.1"/><circle class="rs" cx="586.2" cy="185.0" r="1.6"/><circle class="rd" cx="289.9" cy="164.0" r="1.6"/><circle class="rd" cx="401.0" cy="109.0" r="1.6"/><circle class="rs" cx="493.6" cy="95.7" r="1.6"/><rect class="bd" x="121.6" y="135.3" width="3.1" height="3.1"/><rect class="bd" x="418.0" y="155.6" width="3.1" height="3.1"/><circle class="rd" cx="160.2" cy="149.7" r="1.6"/><rect class="bd" x="306.8" y="127.2" width="3.1" height="3.1"/><rect class="bs" x="473.5" y="104.2" width="3.1" height="3.1"/><rect class="bs" x="399.4" y="190.2" width="3.1" height="3.1"/><rect class="bd" x="529.1" y="165.0" width="3.1" height="3.1"/><rect class="bs" x="455.0" y="187.9" width="3.1" height="3.1"/><rect class="bd" x="492.1" y="171.2" width="3.1" height="3.1"/><circle class="rs" cx="567.7" cy="163.7" r="1.6"/><circle class="rd" cx="401.0" cy="153.4" r="1.6"/><circle class="rd" cx="438.0" cy="142.9" r="1.6"/><rect class="bs" x="195.7" y="221.9" width="3.1" height="3.1"/><rect class="bd" x="492.1" y="148.8" width="3.1" height="3.1"/><circle class="rd" cx="252.8" cy="125.6" r="1.6"/><circle class="rd" cx="401.0" cy="115.4" r="1.6"/><rect class="bd" x="177.2" y="138.0" width="3.1" height="3.1"/><circle class="rd" cx="141.7" cy="148.7" r="1.6"/><rect class="bd" x="214.2" y="131.3" width="3.1" height="3.1"/><circle class="rd" cx="234.3" cy="157.2" r="1.6"/><rect class="bs" x="362.4" y="220.8" width="3.1" height="3.1"/><rect class="bd" x="269.8" y="113.2" width="3.1" height="3.1"/><rect class="bs" x="269.8" y="174.9" width="3.1" height="3.1"/><circle class="rd" cx="456.6" cy="150.5" r="1.6"/><rect class="bd" x="232.7" y="115.8" width="3.1" height="3.1"/><rect class="bd" x="288.3" y="146.4" width="3.1" height="3.1"/><circle class="rd" cx="382.5" cy="120.5" r="1.6"/><rect class="bd" x="251.3" y="163.4" width="3.1" height="3.1"/><rect class="bd" x="510.6" y="125.7" width="3.1" height="3.1"/><circle class="rs" cx="345.4" cy="191.3" r="1.6"/><rect class="bd" x="529.1" y="163.2" width="3.1" height="3.1"/><circle class="rd" cx="178.7" cy="150.1" r="1.6"/><circle class="rs" cx="86.1" cy="51.0" r="1.6"/><circle class="rd" cx="345.4" cy="123.1" r="1.6"/><rect class="bd" x="140.1" y="148.8" width="3.1" height="3.1"/><rect class="bs" x="214.2" y="175.2" width="3.1" height="3.1"/><circle class="rs" cx="438.0" cy="175.5" r="1.6"/><rect class="bs" x="177.2" y="178.5" width="3.1" height="3.1"/><rect class="bd" x="288.3" y="166.9" width="3.1" height="3.1"/><circle class="rd" cx="252.8" cy="151.3" r="1.6"/><circle class="rs" cx="345.4" cy="176.1" r="1.6"/><rect class="bd" x="399.4" y="145.6" width="3.1" height="3.1"/><circle class="rd" cx="197.3" cy="168.6" r="1.6"/><rect class="bd" x="529.1" y="120.4" width="3.1" height="3.1"/><circle class="rs" cx="382.5" cy="99.5" r="1.6"/><rect class="bd" x="418.0" y="107.2" width="3.1" height="3.1"/><circle class="rs" cx="456.6" cy="88.5" r="1.6"/><circle class="rd" cx="252.8" cy="134.6" r="1.6"/><circle class="rd" cx="123.2" cy="153.0" r="1.6"/><circle class="rd" cx="364.0" cy="145.3" r="1.6"/><rect class="bd" x="214.2" y="132.4" width="3.1" height="3.1"/><circle class="rs" cx="456.6" cy="228.6" r="1.6"/><circle class="rd" cx="438.0" cy="133.2" r="1.6"/><circle class="rd" cx="197.3" cy="144.1" r="1.6"/><rect class="bd" x="436.5" y="170.9" width="3.1" height="3.1"/><circle class="rd" cx="401.0" cy="133.5" r="1.6"/><circle class="rs" cx="456.6" cy="188.1" r="1.6"/><rect class="bs" x="584.7" y="110.0" width="3.1" height="3.1"/><circle class="rd" cx="345.4" cy="112.2" r="1.6"/><rect class="bd" x="473.5" y="126.0" width="3.1" height="3.1"/><circle class="rd" cx="271.3" cy="158.2" r="1.6"/><circle class="rs" cx="364.0" cy="249.2" r="1.6"/><rect class="bs" x="343.9" y="241.8" width="3.1" height="3.1"/><rect class="bd" x="195.7" y="167.8" width="3.1" height="3.1"/><rect class="bs" x="251.3" y="94.7" width="3.1" height="3.1"/><rect class="bd" x="325.4" y="135.3" width="3.1" height="3.1"/><rect class="bs" x="251.3" y="208.9" width="3.1" height="3.1"/><rect class="bd" x="214.2" y="139.1" width="3.1" height="3.1"/><circle class="rd" cx="382.5" cy="153.7" r="1.6"/><rect class="bd" x="306.8" y="163.5" width="3.1" height="3.1"/><rect class="bs" x="288.3" y="186.2" width="3.1" height="3.1"/><circle class="rd" cx="401.0" cy="111.6" r="1.6"/><circle class="rd" cx="160.2" cy="165.2" r="1.6"/><rect class="bd" x="380.9" y="133.4" width="3.1" height="3.1"/><rect class="bd" x="288.3" y="133.5" width="3.1" height="3.1"/><rect class="bd" x="399.4" y="160.0" width="3.1" height="3.1"/><circle class="rd" cx="197.3" cy="143.1" r="1.6"/><rect class="bs" x="325.4" y="104.5" width="3.1" height="3.1"/><circle class="rd" cx="438.0" cy="165.1" r="1.6"/><circle class="rs" cx="141.7" cy="132.9" r="1.6"/><circle class="rs" cx="419.5" cy="234.5" r="1.6"/><rect class="bs" x="584.7" y="106.8" width="3.1" height="3.1"/><circle class="rd" cx="549.2" cy="128.6" r="1.6"/><circle class="rd" cx="289.9" cy="139.0" r="1.6"/><circle class="rs" cx="345.4" cy="105.0" r="1.6"/><circle class="rs" cx="215.8" cy="241.8" r="1.6"/><rect class="bs" x="566.1" y="111.2" width="3.1" height="3.1"/><circle class="rd" cx="197.3" cy="154.6" r="1.6"/><rect class="bs" x="306.8" y="96.3" width="3.1" height="3.1"/><circle class="rs" cx="308.4" cy="186.5" r="1.6"/><rect class="bd" x="269.8" y="122.6" width="3.1" height="3.1"/><circle class="rd" cx="456.6" cy="169.5" r="1.6"/><rect class="bd" x="547.6" y="148.4" width="3.1" height="3.1"/><rect class="bd" x="455.0" y="105.7" width="3.1" height="3.1"/><circle class="rd" cx="197.3" cy="161.6" r="1.6"/><rect class="bd" x="418.0" y="162.5" width="3.1" height="3.1"/><rect class="bd" x="140.1" y="141.3" width="3.1" height="3.1"/><rect class="bd" x="473.5" y="138.6" width="3.1" height="3.1"/><rect class="bd" x="547.6" y="151.1" width="3.1" height="3.1"/><circle class="rd" cx="271.3" cy="135.2" r="1.6"/><rect class="bs" x="288.3" y="111.5" width="3.1" height="3.1"/><circle class="rd" cx="345.4" cy="152.4" r="1.6"/><circle class="rd" cx="401.0" cy="148.5" r="1.6"/><circle class="rd" cx="197.3" cy="118.6" r="1.6"/><rect class="bd" x="529.1" y="144.4" width="3.1" height="3.1"/><rect class="bd" x="232.7" y="153.7" width="3.1" height="3.1"/><circle class="rd" cx="141.7" cy="160.0" r="1.6"/><circle class="rd" cx="438.0" cy="107.0" r="1.6"/><rect class="bd" x="214.2" y="169.8" width="3.1" height="3.1"/><rect class="bs" x="529.1" y="77.5" width="3.1" height="3.1"/><circle class="rs" cx="197.3" cy="192.3" r="1.6"/><rect class="bd" x="325.4" y="151.8" width="3.1" height="3.1"/><rect class="bs" x="399.4" y="193.0" width="3.1" height="3.1"/><circle class="rs" cx="326.9" cy="174.1" r="1.6"/><rect class="bd" x="380.9" y="160.9" width="3.1" height="3.1"/><rect class="bs" x="362.4" y="226.3" width="3.1" height="3.1"/><circle class="rd" cx="252.8" cy="157.9" r="1.6"/><rect class="bs" x="121.6" y="183.0" width="3.1" height="3.1"/><rect class="bs" x="325.4" y="54.5" width="3.1" height="3.1"/><rect class="bs" x="269.8" y="194.4" width="3.1" height="3.1"/><rect class="bs" x="288.3" y="185.0" width="3.1" height="3.1"/><rect class="bs" x="158.7" y="216.0" width="3.1" height="3.1"/><rect class="bd" x="140.1" y="139.9" width="3.1" height="3.1"/><circle class="rd" cx="271.3" cy="136.8" r="1.6"/><circle class="rd" cx="438.0" cy="141.1" r="1.6"/><rect class="bs" x="343.9" y="250.0" width="3.1" height="3.1"/><rect class="bs" x="140.1" y="170.9" width="3.1" height="3.1"/><circle class="rs" cx="197.3" cy="91.8" r="1.6"/><circle class="rd" cx="530.6" cy="139.9" r="1.6"/><rect class="bs" x="288.3" y="175.6" width="3.1" height="3.1"/><rect class="bs" x="214.2" y="200.9" width="3.1" height="3.1"/><rect class="bd" x="380.9" y="139.3" width="3.1" height="3.1"/><rect class="bd" x="547.6" y="130.5" width="3.1" height="3.1"/><rect class="bs" x="492.1" y="213.0" width="3.1" height="3.1"/><rect class="bd" x="473.5" y="123.8" width="3.1" height="3.1"/><rect class="bd" x="399.4" y="126.5" width="3.1" height="3.1"/><circle class="rd" cx="493.6" cy="116.4" r="1.6"/><rect class="bd" x="510.6" y="170.5" width="3.1" height="3.1"/><circle class="rd" cx="456.6" cy="122.1" r="1.6"/><circle class="rs" cx="530.6" cy="29.7" r="1.6"/><circle class="rd" cx="456.6" cy="145.7" r="1.6"/><rect class="bs" x="436.5" y="179.7" width="3.1" height="3.1"/><circle class="rs" cx="401.0" cy="202.6" r="1.6"/><rect class="bd" x="492.1" y="132.4" width="3.1" height="3.1"/><rect class="bd" x="566.1" y="136.9" width="3.1" height="3.1"/><rect class="bd" x="177.2" y="160.7" width="3.1" height="3.1"/><rect class="bd" x="269.8" y="149.9" width="3.1" height="3.1"/><circle class="rd" cx="456.6" cy="113.9" r="1.6"/><rect class="bd" x="214.2" y="109.5" width="3.1" height="3.1"/><circle class="rs" cx="475.1" cy="235.2" r="1.6"/><rect class="bd" x="232.7" y="148.4" width="3.1" height="3.1"/><circle class="rs" cx="123.2" cy="123.7" r="1.6"/><rect class="bs" x="584.7" y="135.9" width="3.1" height="3.1"/><rect class="bd" x="436.5" y="159.5" width="3.1" height="3.1"/><rect class="bd" x="529.1" y="165.8" width="3.1" height="3.1"/><rect class="bd" x="158.7" y="143.1" width="3.1" height="3.1"/><rect class="bd" x="566.1" y="135.4" width="3.1" height="3.1"/><rect class="bs" x="140.1" y="108.3" width="3.1" height="3.1"/><rect class="bd" x="418.0" y="168.2" width="3.1" height="3.1"/><circle class="rs" cx="178.7" cy="90.3" r="1.6"/><rect class="bs" x="103.1" y="110.5" width="3.1" height="3.1"/><rect class="bs" x="529.1" y="184.8" width="3.1" height="3.1"/><rect class="bd" x="232.7" y="109.3" width="3.1" height="3.1"/><rect class="bd" x="566.1" y="120.0" width="3.1" height="3.1"/><rect class="bs" x="455.0" y="227.0" width="3.1" height="3.1"/><rect class="bs" x="306.8" y="84.8" width="3.1" height="3.1"/><rect class="bs" x="529.1" y="66.2" width="3.1" height="3.1"/><circle class="rs" cx="438.0" cy="105.6" r="1.6"/><rect class="bd" x="343.9" y="167.9" width="3.1" height="3.1"/><rect class="bd" x="547.6" y="125.7" width="3.1" height="3.1"/><rect class="bs" x="584.7" y="141.9" width="3.1" height="3.1"/><rect class="bd" x="251.3" y="141.6" width="3.1" height="3.1"/><rect class="bs" x="362.4" y="195.1" width="3.1" height="3.1"/><rect class="bd" x="306.8" y="119.5" width="3.1" height="3.1"/><circle class="rd" cx="178.7" cy="137.6" r="1.6"/><rect class="bs" x="418.0" y="181.7" width="3.1" height="3.1"/><circle class="rd" cx="234.3" cy="144.7" r="1.6"/><circle class="rs" cx="641.8" cy="125.9" r="1.6"/><rect class="bs" x="343.9" y="211.6" width="3.1" height="3.1"/><circle class="rs" cx="104.6" cy="178.0" r="1.6"/><circle class="rd" cx="419.5" cy="140.2" r="1.6"/><rect class="bd" x="547.6" y="119.7" width="3.1" height="3.1"/><rect class="bd" x="269.8" y="139.1" width="3.1" height="3.1"/><circle class="rd" cx="215.8" cy="109.4" r="1.6"/><circle class="rs" cx="123.2" cy="118.2" r="1.6"/><circle class="rs" cx="289.9" cy="109.5" r="1.6"/><rect class="bd" x="362.4" y="119.8" width="3.1" height="3.1"/><circle class="rs" cx="104.6" cy="171.5" r="1.6"/><rect class="bd" x="547.6" y="135.4" width="3.1" height="3.1"/><rect class="bd" x="473.5" y="147.9" width="3.1" height="3.1"/><rect class="bs" x="306.8" y="176.5" width="3.1" height="3.1"/><circle class="rs" cx="530.6" cy="86.3" r="1.6"/><rect class="bd" x="195.7" y="157.4" width="3.1" height="3.1"/><circle class="rd" cx="326.9" cy="165.4" r="1.6"/><circle class="rd" cx="141.7" cy="146.2" r="1.6"/><rect class="bd" x="510.6" y="167.5" width="3.1" height="3.1"/><rect class="bd" x="473.5" y="150.6" width="3.1" height="3.1"/><circle class="rd" cx="252.8" cy="165.8" r="1.6"/><circle class="rs" cx="419.5" cy="238.9" r="1.6"/><circle class="rs" cx="419.5" cy="81.9" r="1.6"/><circle class="rd" cx="289.9" cy="165.1" r="1.6"/><rect class="bd" x="529.1" y="167.2" width="3.1" height="3.1"/><rect class="bs" x="251.3" y="172.1" width="3.1" height="3.1"/><rect class="bs" x="492.1" y="190.2" width="3.1" height="3.1"/><circle class="rs" cx="456.6" cy="106.5" r="1.6"/><circle class="rd" cx="475.1" cy="165.0" r="1.6"/><rect class="bs" x="399.4" y="220.4" width="3.1" height="3.1"/><rect class="bs" x="547.6" y="177.3" width="3.1" height="3.1"/><rect class="bs" x="269.8" y="176.4" width="3.1" height="3.1"/><circle class="rs" cx="456.6" cy="98.4" r="1.6"/><rect class="bs" x="473.5" y="101.2" width="3.1" height="3.1"/><circle class="rs" cx="401.0" cy="102.8" r="1.6"/><rect class="bd" x="306.8" y="165.8" width="3.1" height="3.1"/><rect class="bs" x="140.1" y="123.5" width="3.1" height="3.1"/><rect class="bd" x="510.6" y="147.9" width="3.1" height="3.1"/><circle class="rs" cx="401.0" cy="244.8" r="1.6"/><circle class="rd" cx="326.9" cy="155.7" r="1.6"/><circle class="rd" cx="475.1" cy="156.2" r="1.6"/><rect class="bs" x="658.8" y="147.8" width="3.1" height="3.1"/><rect class="bd" x="399.4" y="136.5" width="3.1" height="3.1"/><circle class="rd" cx="419.5" cy="156.1" r="1.6"/><rect class="bd" x="158.7" y="105.7" width="3.1" height="3.1"/><rect class="bd" x="195.7" y="135.2" width="3.1" height="3.1"/><rect class="bs" x="529.1" y="211.6" width="3.1" height="3.1"/><rect class="bd" x="399.4" y="163.0" width="3.1" height="3.1"/><rect class="bd" x="121.6" y="153.0" width="3.1" height="3.1"/><circle class="rd" cx="289.9" cy="136.2" r="1.6"/><rect class="bd" x="343.9" y="111.7" width="3.1" height="3.1"/><circle class="rs" cx="382.5" cy="82.2" r="1.6"/><rect class="bd" x="566.1" y="129.8" width="3.1" height="3.1"/><rect class="bs" x="380.9" y="256.4" width="3.1" height="3.1"/><circle class="rd" cx="419.5" cy="134.6" r="1.6"/><rect class="bd" x="436.5" y="113.1" width="3.1" height="3.1"/><rect class="bd" x="325.4" y="145.8" width="3.1" height="3.1"/><circle class="rd" cx="493.6" cy="160.5" r="1.6"/><rect class="bd" x="232.7" y="155.0" width="3.1" height="3.1"/><circle class="rd" cx="289.9" cy="131.5" r="1.6"/><circle class="rs" cx="493.6" cy="186.3" r="1.6"/><circle class="rd" cx="289.9" cy="154.4" r="1.6"/><rect class="bd" x="214.2" y="152.2" width="3.1" height="3.1"/><rect class="bs" x="306.8" y="100.0" width="3.1" height="3.1"/><circle class="rd" cx="215.8" cy="151.2" r="1.6"/><rect class="bs" x="380.9" y="179.9" width="3.1" height="3.1"/><rect class="bd" x="492.1" y="155.0" width="3.1" height="3.1"/><rect class="bd" x="399.4" y="141.8" width="3.1" height="3.1"/><rect class="bs" x="529.1" y="180.8" width="3.1" height="3.1"/><circle class="rd" cx="567.7" cy="123.5" r="1.6"/><circle class="rd" cx="123.2" cy="148.5" r="1.6"/><rect class="bs" x="621.7" y="158.1" width="3.1" height="3.1"/><rect class="bd" x="418.0" y="167.3" width="3.1" height="3.1"/><rect class="bs" x="103.1" y="136.8" width="3.1" height="3.1"/><circle class="rs" cx="401.0" cy="82.0" r="1.6"/><rect class="bs" x="288.3" y="102.5" width="3.1" height="3.1"/><circle class="rd" cx="493.6" cy="117.3" r="1.6"/><circle class="rs" cx="401.0" cy="95.1" r="1.6"/><rect class="bs" x="232.7" y="204.5" width="3.1" height="3.1"/><rect class="bs" x="436.5" y="203.9" width="3.1" height="3.1"/><circle class="rd" cx="289.9" cy="158.9" r="1.6"/><rect class="bs" x="455.0" y="218.4" width="3.1" height="3.1"/><circle class="rd" cx="530.6" cy="120.3" r="1.6"/><rect class="bs" x="306.8" y="192.3" width="3.1" height="3.1"/><circle class="rd" cx="271.3" cy="124.8" r="1.6"/><circle class="rd" cx="382.5" cy="137.2" r="1.6"/><rect class="bd" x="436.5" y="124.6" width="3.1" height="3.1"/><rect class="bd" x="269.8" y="119.4" width="3.1" height="3.1"/><circle class="rs" cx="326.9" cy="223.5" r="1.6"/><circle class="rd" cx="419.5" cy="107.5" r="1.6"/><rect class="bs" x="529.1" y="91.5" width="3.1" height="3.1"/><circle class="rs" cx="475.1" cy="57.7" r="1.6"/><circle class="rd" cx="271.3" cy="110.7" r="1.6"/><rect class="bd" x="566.1" y="139.0" width="3.1" height="3.1"/><rect class="bd" x="399.4" y="156.8" width="3.1" height="3.1"/><circle class="rd" cx="530.6" cy="128.3" r="1.6"/><rect class="bd" x="343.9" y="165.2" width="3.1" height="3.1"/><rect class="bs" x="306.8" y="212.8" width="3.1" height="3.1"/><rect class="bd" x="288.3" y="119.0" width="3.1" height="3.1"/><rect class="bs" x="158.7" y="99.0" width="3.1" height="3.1"/><circle class="rd" cx="364.0" cy="150.4" r="1.6"/><rect class="bs" x="566.1" y="194.0" width="3.1" height="3.1"/><rect class="bs" x="492.1" y="85.9" width="3.1" height="3.1"/><circle class="rs" cx="326.9" cy="81.0" r="1.6"/><circle class="rs" cx="512.1" cy="185.9" r="1.6"/><circle class="rd" cx="289.9" cy="121.6" r="1.6"/><rect class="bd" x="288.3" y="115.5" width="3.1" height="3.1"/><rect class="bs" x="343.9" y="92.5" width="3.1" height="3.1"/><rect class="bs" x="492.1" y="207.3" width="3.1" height="3.1"/><rect class="bs" x="306.8" y="54.5" width="3.1" height="3.1"/><rect class="bs" x="288.3" y="208.3" width="3.1" height="3.1"/><circle class="rd" cx="252.8" cy="141.2" r="1.6"/><circle class="rd" cx="438.0" cy="119.5" r="1.6"/><circle class="rd" cx="456.6" cy="134.9" r="1.6"/><circle class="rd" cx="364.0" cy="127.5" r="1.6"/><circle class="rd" cx="215.8" cy="115.2" r="1.6"/><circle class="rs" cx="215.8" cy="185.2" r="1.6"/><rect class="bs" x="566.1" y="203.2" width="3.1" height="3.1"/><circle class="rd" cx="197.3" cy="152.5" r="1.6"/><circle class="rd" cx="475.1" cy="138.8" r="1.6"/><rect class="bs" x="473.5" y="185.5" width="3.1" height="3.1"/><circle class="rs" cx="438.0" cy="33.0" r="1.6"/><circle class="rs" cx="475.1" cy="173.5" r="1.6"/><rect class="bd" x="158.7" y="154.6" width="3.1" height="3.1"/><circle class="rs" cx="364.0" cy="17.6" r="1.6"/><rect class="bd" x="251.3" y="137.8" width="3.1" height="3.1"/><circle class="rs" cx="345.4" cy="210.0" r="1.6"/><rect class="bd" x="325.4" y="128.4" width="3.1" height="3.1"/><rect class="bd" x="343.9" y="132.6" width="3.1" height="3.1"/><circle class="rd" cx="512.1" cy="144.1" r="1.6"/><rect class="bd" x="140.1" y="150.1" width="3.1" height="3.1"/><circle class="rs" cx="475.1" cy="189.0" r="1.6"/><rect class="bd" x="492.1" y="108.9" width="3.1" height="3.1"/><rect class="bs" x="436.5" y="185.9" width="3.1" height="3.1"/><circle class="rd" cx="401.0" cy="119.0" r="1.6"/><circle class="rd" cx="215.8" cy="119.2" r="1.6"/><rect class="bs" x="140.1" y="91.8" width="3.1" height="3.1"/><circle class="rs" cx="123.2" cy="134.7" r="1.6"/><circle class="rd" cx="345.4" cy="157.8" r="1.6"/><circle class="rd" cx="215.8" cy="146.3" r="1.6"/><rect class="bs" x="380.9" y="224.1" width="3.1" height="3.1"/><rect class="bs" x="399.4" y="187.5" width="3.1" height="3.1"/><circle class="rd" cx="123.2" cy="157.7" r="1.6"/><rect class="bs" x="362.4" y="75.5" width="3.1" height="3.1"/><circle class="rd" cx="530.6" cy="142.8" r="1.6"/><circle class="rs" cx="234.3" cy="186.6" r="1.6"/><rect class="bd" x="158.7" y="127.9" width="3.1" height="3.1"/><circle class="rd" cx="178.7" cy="127.4" r="1.6"/><rect class="bs" x="343.9" y="192.7" width="3.1" height="3.1"/><rect class="bs" x="140.1" y="183.0" width="3.1" height="3.1"/><circle class="rd" cx="382.5" cy="140.1" r="1.6"/><circle class="rd" cx="493.6" cy="138.4" r="1.6"/><rect class="bd" x="380.9" y="153.9" width="3.1" height="3.1"/><rect class="bs" x="492.1" y="70.2" width="3.1" height="3.1"/><circle class="rs" cx="438.0" cy="102.3" r="1.6"/><circle class="rd" cx="289.9" cy="128.7" r="1.6"/><circle class="rd" cx="567.7" cy="141.6" r="1.6"/><circle class="rd" cx="234.3" cy="152.5" r="1.6"/><rect class="bs" x="510.6" y="175.5" width="3.1" height="3.1"/><rect class="bs" x="547.6" y="115.5" width="3.1" height="3.1"/><circle class="rd" cx="197.3" cy="133.4" r="1.6"/><circle class="rs" cx="438.0" cy="259.8" r="1.6"/><rect class="bd" x="455.0" y="106.9" width="3.1" height="3.1"/><circle class="rd" cx="382.5" cy="152.2" r="1.6"/><circle class="rd" cx="401.0" cy="132.5" r="1.6"/><rect class="bs" x="343.9" y="176.8" width="3.1" height="3.1"/><rect class="bs" x="492.1" y="194.4" width="3.1" height="3.1"/><circle class="rd" cx="456.6" cy="121.3" r="1.6"/><circle class="rd" cx="419.5" cy="121.5" r="1.6"/><rect class="bd" x="269.8" y="160.9" width="3.1" height="3.1"/><circle class="rd" cx="382.5" cy="110.7" r="1.6"/><rect class="bs" x="343.9" y="182.5" width="3.1" height="3.1"/><rect class="bd" x="177.2" y="153.0" width="3.1" height="3.1"/><circle class="rs" cx="289.9" cy="24.9" r="1.6"/><rect class="bd" x="158.7" y="127.0" width="3.1" height="3.1"/><circle class="rs" cx="401.0" cy="35.2" r="1.6"/><rect class="bs" x="399.4" y="173.0" width="3.1" height="3.1"/><rect class="bs" x="510.6" y="99.3" width="3.1" height="3.1"/><circle class="rs" cx="530.6" cy="36.7" r="1.6"/><rect class="bs" x="251.3" y="234.0" width="3.1" height="3.1"/><rect class="bd" x="306.8" y="123.7" width="3.1" height="3.1"/><rect class="bd" x="380.9" y="137.0" width="3.1" height="3.1"/><circle class="rd" cx="141.7" cy="165.0" r="1.6"/><rect class="bd" x="306.8" y="170.1" width="3.1" height="3.1"/><rect class="bs" x="418.0" y="198.5" width="3.1" height="3.1"/><rect class="bd" x="306.8" y="143.7" width="3.1" height="3.1"/><rect class="bs" x="306.8" y="78.2" width="3.1" height="3.1"/><circle class="rs" cx="326.9" cy="76.0" r="1.6"/><circle class="rd" cx="364.0" cy="120.5" r="1.6"/><circle class="rd" cx="364.0" cy="115.6" r="1.6"/><rect class="bd" x="473.5" y="112.5" width="3.1" height="3.1"/><circle class="rd" cx="197.3" cy="166.4" r="1.6"/><circle class="rd" cx="530.6" cy="129.2" r="1.6"/><rect class="bs" x="325.4" y="190.1" width="3.1" height="3.1"/><circle class="rd" cx="234.3" cy="122.7" r="1.6"/><rect class="bs" x="436.5" y="184.7" width="3.1" height="3.1"/><rect class="bs" x="380.9" y="182.2" width="3.1" height="3.1"/><rect class="bd" x="325.4" y="141.9" width="3.1" height="3.1"/><rect class="bs" x="529.1" y="74.9" width="3.1" height="3.1"/><rect class="bd" x="473.5" y="160.9" width="3.1" height="3.1"/><circle class="rs" cx="419.5" cy="105.0" r="1.6"/><rect class="bd" x="399.4" y="137.8" width="3.1" height="3.1"/><circle class="rs" cx="326.9" cy="67.0" r="1.6"/><rect class="bd" x="269.8" y="161.9" width="3.1" height="3.1"/><rect class="bs" x="529.1" y="174.3" width="3.1" height="3.1"/><rect class="bs" x="306.8" y="228.4" width="3.1" height="3.1"/><circle class="rd" cx="178.7" cy="145.2" r="1.6"/><circle class="rs" cx="234.3" cy="184.2" r="1.6"/><rect class="bd" x="251.3" y="145.1" width="3.1" height="3.1"/><rect class="bs" x="362.4" y="173.8" width="3.1" height="3.1"/><circle class="rd" cx="438.0" cy="152.4" r="1.6"/><rect class="bs" x="121.6" y="127.1" width="3.1" height="3.1"/><rect class="bs" x="343.9" y="83.7" width="3.1" height="3.1"/><rect class="bd" x="510.6" y="143.2" width="3.1" height="3.1"/><circle class="rs" cx="234.3" cy="100.0" r="1.6"/><circle class="rd" cx="456.6" cy="167.6" r="1.6"/><circle class="rd" cx="345.4" cy="111.5" r="1.6"/><rect class="bs" x="510.6" y="106.2" width="3.1" height="3.1"/><rect class="bs" x="232.7" y="103.9" width="3.1" height="3.1"/><circle class="rd" cx="271.3" cy="115.8" r="1.6"/><rect class="bs" x="325.4" y="90.2" width="3.1" height="3.1"/><rect class="bd" x="140.1" y="137.6" width="3.1" height="3.1"/><rect class="bd" x="510.6" y="122.9" width="3.1" height="3.1"/><rect class="bd" x="195.7" y="165.9" width="3.1" height="3.1"/><circle class="rd" cx="493.6" cy="123.7" r="1.6"/><rect class="bs" x="380.9" y="103.1" width="3.1" height="3.1"/><circle class="rd" cx="438.0" cy="108.9" r="1.6"/><rect class="bd" x="529.1" y="161.4" width="3.1" height="3.1"/><circle class="rs" cx="308.4" cy="183.3" r="1.6"/><rect class="bs" x="547.6" y="94.2" width="3.1" height="3.1"/><circle class="rs" cx="586.2" cy="171.8" r="1.6"/><rect class="bs" x="566.1" y="143.4" width="3.1" height="3.1"/><circle class="rs" cx="401.0" cy="60.5" r="1.6"/><rect class="bd" x="492.1" y="150.4" width="3.1" height="3.1"/><rect class="bd" x="473.5" y="152.1" width="3.1" height="3.1"/><rect class="bd" x="492.1" y="129.2" width="3.1" height="3.1"/><circle class="rd" cx="141.7" cy="152.6" r="1.6"/><circle class="rs" cx="271.3" cy="71.2" r="1.6"/><circle class="rd" cx="308.4" cy="107.5" r="1.6"/><circle class="rd" cx="475.1" cy="163.9" r="1.6"/><rect class="bs" x="380.9" y="191.2" width="3.1" height="3.1"/><circle class="rs" cx="289.9" cy="107.5" r="1.6"/><rect class="bd" x="455.0" y="129.9" width="3.1" height="3.1"/><circle class="rd" cx="475.1" cy="121.0" r="1.6"/><rect class="bd" x="232.7" y="117.9" width="3.1" height="3.1"/><circle class="rd" cx="215.8" cy="113.6" r="1.6"/><rect class="bs" x="195.7" y="176.0" width="3.1" height="3.1"/><rect class="bd" x="195.7" y="127.7" width="3.1" height="3.1"/><rect class="bs" x="177.2" y="183.6" width="3.1" height="3.1"/><circle class="rd" cx="178.7" cy="133.1" r="1.6"/><rect class="bs" x="121.6" y="187.4" width="3.1" height="3.1"/><circle class="rd" cx="493.6" cy="132.0" r="1.6"/><rect class="bs" x="418.0" y="175.2" width="3.1" height="3.1"/><rect class="bs" x="418.0" y="186.4" width="3.1" height="3.1"/><circle class="rd" cx="234.3" cy="112.5" r="1.6"/><circle class="rd" cx="197.3" cy="126.0" r="1.6"/><rect class="bd" x="121.6" y="138.4" width="3.1" height="3.1"/><circle class="rs" cx="123.2" cy="173.6" r="1.6"/><rect class="bs" x="529.1" y="82.5" width="3.1" height="3.1"/><circle class="rs" cx="419.5" cy="94.4" r="1.6"/><circle class="rd" cx="567.7" cy="136.3" r="1.6"/><circle class="rd" cx="345.4" cy="155.2" r="1.6"/><rect class="bd" x="455.0" y="139.3" width="3.1" height="3.1"/><circle class="rd" cx="401.0" cy="154.3" r="1.6"/><circle class="rd" cx="419.5" cy="139.4" r="1.6"/><rect class="bs" x="195.7" y="236.2" width="3.1" height="3.1"/><rect class="bs" x="492.1" y="90.6" width="3.1" height="3.1"/><circle class="rd" cx="252.8" cy="150.0" r="1.6"/><rect class="bd" x="195.7" y="146.7" width="3.1" height="3.1"/><rect class="bs" x="399.4" y="176.5" width="3.1" height="3.1"/><rect class="bd" x="399.4" y="135.0" width="3.1" height="3.1"/><circle class="rd" cx="345.4" cy="170.5" r="1.6"/><rect class="bs" x="232.7" y="202.0" width="3.1" height="3.1"/><circle class="rd" cx="271.3" cy="146.8" r="1.6"/><circle class="rd" cx="438.0" cy="147.1" r="1.6"/><circle class="rd" cx="438.0" cy="150.9" r="1.6"/><rect class="bd" x="158.7" y="145.3" width="3.1" height="3.1"/><circle class="rd" cx="308.4" cy="116.0" r="1.6"/><rect class="bd" x="418.0" y="131.8" width="3.1" height="3.1"/><rect class="bs" x="584.7" y="181.2" width="3.1" height="3.1"/><rect class="bs" x="492.1" y="78.2" width="3.1" height="3.1"/><rect class="bs" x="195.7" y="187.4" width="3.1" height="3.1"/><rect class="bs" x="177.2" y="186.3" width="3.1" height="3.1"/><rect class="bd" x="251.3" y="120.9" width="3.1" height="3.1"/><rect class="bd" x="380.9" y="145.7" width="3.1" height="3.1"/><circle class="rs" cx="530.6" cy="211.0" r="1.6"/><circle class="rs" cx="308.4" cy="55.0" r="1.6"/><rect class="bd" x="177.2" y="167.3" width="3.1" height="3.1"/><rect class="bd" x="510.6" y="128.2" width="3.1" height="3.1"/><rect class="bs" x="195.7" y="104.5" width="3.1" height="3.1"/><circle class="rs" cx="215.8" cy="101.7" r="1.6"/><circle class="rd" cx="160.2" cy="134.6" r="1.6"/><rect class="bs" x="140.1" y="194.4" width="3.1" height="3.1"/><rect class="bs" x="158.7" y="73.2" width="3.1" height="3.1"/><rect class="bd" x="380.9" y="112.6" width="3.1" height="3.1"/><circle class="rd" cx="271.3" cy="127.8" r="1.6"/><rect class="bs" x="418.0" y="216.0" width="3.1" height="3.1"/><rect class="bs" x="492.1" y="201.8" width="3.1" height="3.1"/><rect class="bd" x="121.6" y="160.7" width="3.1" height="3.1"/><rect class="bs" x="158.7" y="211.6" width="3.1" height="3.1"/><circle class="rs" cx="160.2" cy="101.9" r="1.6"/><circle class="rd" cx="549.2" cy="130.6" r="1.6"/><circle class="rs" cx="141.7" cy="115.5" r="1.6"/><rect class="bs" x="547.6" y="198.8" width="3.1" height="3.1"/><circle class="rs" cx="252.8" cy="181.4" r="1.6"/><circle class="rs" cx="308.4" cy="94.0" r="1.6"/><circle class="rs" cx="215.8" cy="198.8" r="1.6"/><rect class="bs" x="380.9" y="194.1" width="3.1" height="3.1"/><rect class="bs" x="473.5" y="92.9" width="3.1" height="3.1"/><circle class="rd" cx="438.0" cy="123.2" r="1.6"/><rect class="bd" x="251.3" y="128.1" width="3.1" height="3.1"/><rect class="bd" x="418.0" y="111.6" width="3.1" height="3.1"/><rect class="bs" x="214.2" y="218.8" width="3.1" height="3.1"/><rect class="bs" x="251.3" y="79.7" width="3.1" height="3.1"/><circle class="rd" cx="123.2" cy="163.6" r="1.6"/><rect class="bs" x="547.6" y="162.4" width="3.1" height="3.1"/><circle class="rd" cx="493.6" cy="122.5" r="1.6"/><rect class="bs" x="362.4" y="209.4" width="3.1" height="3.1"/><rect class="bs" x="269.8" y="103.8" width="3.1" height="3.1"/><rect class="bd" x="158.7" y="153.9" width="3.1" height="3.1"/><circle class="rd" cx="567.7" cy="127.4" r="1.6"/><circle class="rs" cx="475.1" cy="196.5" r="1.6"/><rect class="bs" x="473.5" y="182.1" width="3.1" height="3.1"/><rect class="bs" x="455.0" y="238.8" width="3.1" height="3.1"/><rect class="bd" x="343.9" y="148.9" width="3.1" height="3.1"/><rect class="bs" x="177.2" y="174.5" width="3.1" height="3.1"/><rect class="bd" x="121.6" y="154.5" width="3.1" height="3.1"/><circle class="rs" cx="308.4" cy="179.3" r="1.6"/><rect class="bs" x="306.8" y="252.8" width="3.1" height="3.1"/><circle class="rs" cx="549.2" cy="176.1" r="1.6"/><circle class="rd" cx="456.6" cy="139.3" r="1.6"/><rect class="bd" x="306.8" y="137.2" width="3.1" height="3.1"/><rect class="bs" x="362.4" y="65.0" width="3.1" height="3.1"/><rect class="bs" x="195.7" y="81.0" width="3.1" height="3.1"/><circle class="rd" cx="178.7" cy="157.8" r="1.6"/><circle class="rd" cx="178.7" cy="161.1" r="1.6"/><circle class="rd" cx="401.0" cy="135.5" r="1.6"/><circle class="rd" cx="215.8" cy="165.2" r="1.6"/><circle class="rd" cx="512.1" cy="163.7" r="1.6"/><rect class="bd" x="510.6" y="111.2" width="3.1" height="3.1"/><circle class="rs" cx="475.1" cy="92.4" r="1.6"/><circle class="rd" cx="567.7" cy="134.0" r="1.6"/><rect class="bs" x="177.2" y="172.8" width="3.1" height="3.1"/><circle class="rd" cx="289.9" cy="143.3" r="1.6"/><rect class="bs" x="269.8" y="92.8" width="3.1" height="3.1"/><rect class="bs" x="547.6" y="187.4" width="3.1" height="3.1"/><rect class="bd" x="362.4" y="133.9" width="3.1" height="3.1"/><rect class="bd" x="510.6" y="158.9" width="3.1" height="3.1"/><circle class="rd" cx="160.2" cy="130.1" r="1.6"/><circle class="rs" cx="456.6" cy="83.0" r="1.6"/><circle class="rd" cx="382.5" cy="117.0" r="1.6"/><circle class="rd" cx="512.1" cy="121.0" r="1.6"/><rect class="bs" x="343.9" y="217.3" width="3.1" height="3.1"/><rect class="bd" x="436.5" y="118.7" width="3.1" height="3.1"/><circle class="rd" cx="271.3" cy="148.4" r="1.6"/><circle class="rd" cx="308.4" cy="133.1" r="1.6"/><rect class="bd" x="325.4" y="130.9" width="3.1" height="3.1"/><rect class="bs" x="343.9" y="78.9" width="3.1" height="3.1"/><rect class="bd" x="529.1" y="152.4" width="3.1" height="3.1"/><rect class="bd" x="158.7" y="115.0" width="3.1" height="3.1"/><rect class="bs" x="214.2" y="202.4" width="3.1" height="3.1"/><rect class="bd" x="214.2" y="167.8" width="3.1" height="3.1"/><rect class="bd" x="158.7" y="156.8" width="3.1" height="3.1"/><rect class="bd" x="455.0" y="160.1" width="3.1" height="3.1"/><rect class="bd" x="195.7" y="118.0" width="3.1" height="3.1"/><circle class="rd" cx="160.2" cy="168.6" r="1.6"/><rect class="bd" x="510.6" y="132.1" width="3.1" height="3.1"/><circle class="rs" cx="438.0" cy="88.5" r="1.6"/><rect class="bs" x="436.5" y="207.4" width="3.1" height="3.1"/><circle class="rd" cx="252.8" cy="156.4" r="1.6"/><rect class="bs" x="288.3" y="89.2" width="3.1" height="3.1"/><circle class="rs" cx="86.1" cy="187.9" r="1.6"/><circle class="rd" cx="475.1" cy="161.3" r="1.6"/><circle class="rd" cx="197.3" cy="149.6" r="1.6"/><circle class="rd" cx="308.4" cy="131.1" r="1.6"/><rect class="bd" x="269.8" y="115.9" width="3.1" height="3.1"/><rect class="bd" x="288.3" y="167.6" width="3.1" height="3.1"/><circle class="rs" cx="289.9" cy="180.7" r="1.6"/><rect class="bs" x="325.4" y="180.5" width="3.1" height="3.1"/><circle class="rd" cx="178.7" cy="142.5" r="1.6"/><circle class="rs" cx="364.0" cy="184.6" r="1.6"/><rect class="bs" x="325.4" y="76.5" width="3.1" height="3.1"/><circle class="rd" cx="456.6" cy="111.6" r="1.6"/><rect class="bs" x="380.9" y="105.0" width="3.1" height="3.1"/><rect class="bs" x="269.8" y="26.6" width="3.1" height="3.1"/><circle class="rd" cx="197.3" cy="142.5" r="1.6"/><rect class="bd" x="288.3" y="140.7" width="3.1" height="3.1"/><circle class="rd" cx="493.6" cy="140.3" r="1.6"/><circle class="rd" cx="419.5" cy="110.7" r="1.6"/><rect class="bs" x="251.3" y="224.5" width="3.1" height="3.1"/><circle class="rs" cx="141.7" cy="53.7" r="1.6"/><circle class="rd" cx="382.5" cy="158.3" r="1.6"/><circle class="rd" cx="567.7" cy="128.3" r="1.6"/><circle class="rs" cx="141.7" cy="179.9" r="1.6"/><rect class="bs" x="232.7" y="174.2" width="3.1" height="3.1"/><rect class="bs" x="492.1" y="217.4" width="3.1" height="3.1"/><circle class="rd" cx="197.3" cy="115.7" r="1.6"/><rect class="bd" x="418.0" y="147.6" width="3.1" height="3.1"/><rect class="bd" x="418.0" y="136.0" width="3.1" height="3.1"/><circle class="rd" cx="160.2" cy="150.3" r="1.6"/><circle class="rs" cx="530.6" cy="114.9" r="1.6"/><rect class="bd" x="325.4" y="148.4" width="3.1" height="3.1"/><circle class="rs" cx="215.8" cy="104.5" r="1.6"/><circle class="rd" cx="141.7" cy="161.3" r="1.6"/><rect class="bd" x="306.8" y="121.3" width="3.1" height="3.1"/><rect class="bs" x="195.7" y="174.9" width="3.1" height="3.1"/><rect class="bs" x="195.7" y="86.2" width="3.1" height="3.1"/><rect class="bs" x="195.7" y="67.2" width="3.1" height="3.1"/><rect class="bs" x="436.5" y="37.0" width="3.1" height="3.1"/><rect class="bd" x="362.4" y="150.4" width="3.1" height="3.1"/><circle class="rd" cx="382.5" cy="150.7" r="1.6"/><rect class="bs" x="380.9" y="89.1" width="3.1" height="3.1"/><circle class="rd" cx="178.7" cy="138.8" r="1.6"/><circle class="rs" cx="326.9" cy="178.4" r="1.6"/><rect class="bs" x="103.1" y="171.4" width="3.1" height="3.1"/><rect class="bs" x="343.9" y="227.8" width="3.1" height="3.1"/><rect class="bd" x="473.5" y="153.8" width="3.1" height="3.1"/><rect class="bd" x="306.8" y="141.0" width="3.1" height="3.1"/><rect class="bd" x="251.3" y="162.1" width="3.1" height="3.1"/><rect class="bd" x="158.7" y="135.6" width="3.1" height="3.1"/><rect class="bd" x="214.2" y="157.9" width="3.1" height="3.1"/><circle class="rd" cx="141.7" cy="138.0" r="1.6"/><circle class="rd" cx="215.8" cy="121.6" r="1.6"/><circle class="rd" cx="160.2" cy="154.9" r="1.6"/><circle class="rd" cx="401.0" cy="144.6" r="1.6"/><rect class="bd" x="436.5" y="127.4" width="3.1" height="3.1"/><rect class="bd" x="288.3" y="156.5" width="3.1" height="3.1"/><rect class="bd" x="306.8" y="127.9" width="3.1" height="3.1"/><rect class="bs" x="140.1" y="106.8" width="3.1" height="3.1"/><circle class="rs" cx="438.0" cy="99.5" r="1.6"/><rect class="bs" x="362.4" y="192.2" width="3.1" height="3.1"/><circle class="rd" cx="160.2" cy="111.9" r="1.6"/><circle class="rd" cx="364.0" cy="112.6" r="1.6"/><circle class="rs" cx="512.1" cy="206.1" r="1.6"/><circle class="rs" cx="419.5" cy="102.4" r="1.6"/><circle class="rd" cx="530.6" cy="124.4" r="1.6"/><rect class="bs" x="66.0" y="152.2" width="3.1" height="3.1"/><rect class="bd" x="306.8" y="139.4" width="3.1" height="3.1"/><rect class="bd" x="455.0" y="158.1" width="3.1" height="3.1"/><rect class="bd" x="436.5" y="128.9" width="3.1" height="3.1"/><rect class="bd" x="232.7" y="130.4" width="3.1" height="3.1"/><rect class="bs" x="418.0" y="190.0" width="3.1" height="3.1"/><circle class="rd" cx="215.8" cy="126.6" r="1.6"/><rect class="bd" x="455.0" y="154.9" width="3.1" height="3.1"/><rect class="bs" x="251.3" y="78.2" width="3.1" height="3.1"/><circle class="rd" cx="326.9" cy="158.0" r="1.6"/><circle class="rs" cx="308.4" cy="90.7" r="1.6"/><rect class="bd" x="288.3" y="170.5" width="3.1" height="3.1"/><rect class="bd" x="529.1" y="136.6" width="3.1" height="3.1"/><rect class="bs" x="473.5" y="197.9" width="3.1" height="3.1"/><circle class="rs" cx="604.7" cy="121.0" r="1.6"/><circle class="rs" cx="104.6" cy="174.5" r="1.6"/><circle class="rd" cx="252.8" cy="130.8" r="1.6"/><rect class="bs" x="288.3" y="219.0" width="3.1" height="3.1"/><rect class="bd" x="510.6" y="145.6" width="3.1" height="3.1"/><circle class="rs" cx="364.0" cy="61.1" r="1.6"/><rect class="bd" x="492.1" y="163.8" width="3.1" height="3.1"/><rect class="bd" x="177.2" y="128.5" width="3.1" height="3.1"/><rect class="bs" x="121.6" y="112.2" width="3.1" height="3.1"/><rect class="bd" x="214.2" y="160.6" width="3.1" height="3.1"/><circle class="rd" cx="271.3" cy="157.0" r="1.6"/><rect class="bd" x="325.4" y="167.1" width="3.1" height="3.1"/><rect class="bs" x="251.3" y="214.2" width="3.1" height="3.1"/><rect class="bd" x="232.7" y="135.1" width="3.1" height="3.1"/><circle class="rd" cx="456.6" cy="160.3" r="1.6"/><circle class="rs" cx="326.9" cy="97.2" r="1.6"/><rect class="bs" x="455.0" y="208.9" width="3.1" height="3.1"/><circle class="rd" cx="493.6" cy="159.9" r="1.6"/><rect class="bd" x="121.6" y="148.2" width="3.1" height="3.1"/><rect class="bs" x="399.4" y="57.4" width="3.1" height="3.1"/><rect class="bd" x="380.9" y="107.3" width="3.1" height="3.1"/><rect class="bd" x="195.7" y="162.0" width="3.1" height="3.1"/><rect class="bd" x="399.4" y="105.7" width="3.1" height="3.1"/><rect class="bd" x="343.9" y="154.2" width="3.1" height="3.1"/><circle class="rd" cx="234.3" cy="164.7" r="1.6"/><circle class="rs" cx="345.4" cy="207.7" r="1.6"/><rect class="bs" x="288.3" y="215.3" width="3.1" height="3.1"/><circle class="rd" cx="197.3" cy="150.9" r="1.6"/><circle class="rd" cx="123.2" cy="143.3" r="1.6"/><rect class="bs" x="177.2" y="188.4" width="3.1" height="3.1"/><circle class="rs" cx="567.7" cy="118.8" r="1.6"/><rect class="bd" x="436.5" y="142.7" width="3.1" height="3.1"/><circle class="rs" cx="271.3" cy="180.1" r="1.6"/><circle class="rd" cx="512.1" cy="159.3" r="1.6"/><rect class="bd" x="418.0" y="160.4" width="3.1" height="3.1"/><rect class="bs" x="492.1" y="186.8" width="3.1" height="3.1"/><rect class="bs" x="158.7" y="178.4" width="3.1" height="3.1"/><circle class="rd" cx="456.6" cy="117.9" r="1.6"/><circle class="rs" cx="456.6" cy="183.1" r="1.6"/><rect class="bd" x="455.0" y="156.1" width="3.1" height="3.1"/><rect class="bs" x="455.0" y="189.9" width="3.1" height="3.1"/><rect class="bs" x="84.6" y="120.5" width="3.1" height="3.1"/><rect class="bs" x="158.7" y="192.9" width="3.1" height="3.1"/><rect class="bs" x="251.3" y="198.4" width="3.1" height="3.1"/><circle class="rs" cx="326.9" cy="179.5" r="1.6"/><circle class="rd" cx="141.7" cy="158.7" r="1.6"/><rect class="bd" x="306.8" y="151.1" width="3.1" height="3.1"/><circle class="rs" cx="364.0" cy="102.3" r="1.6"/><rect class="bd" x="306.8" y="152.3" width="3.1" height="3.1"/><rect class="bd" x="251.3" y="135.9" width="3.1" height="3.1"/><rect class="bd" x="177.2" y="127.4" width="3.1" height="3.1"/><circle class="rd" cx="141.7" cy="145.0" r="1.6"/><rect class="bd" x="492.1" y="135.9" width="3.1" height="3.1"/><circle class="rd" cx="197.3" cy="153.8" r="1.6"/><rect class="bd" x="529.1" y="130.9" width="3.1" height="3.1"/><rect class="bd" x="269.8" y="149.1" width="3.1" height="3.1"/><circle class="rd" cx="364.0" cy="158.9" r="1.6"/><circle class="rs" cx="104.6" cy="131.4" r="1.6"/><circle class="rd" cx="456.6" cy="133.0" r="1.6"/><rect class="bd" x="269.8" y="166.8" width="3.1" height="3.1"/><rect class="bs" x="103.1" y="168.4" width="3.1" height="3.1"/><circle class="rd" cx="530.6" cy="156.2" r="1.6"/><circle class="rs" cx="141.7" cy="191.1" r="1.6"/><rect class="bs" x="492.1" y="172.2" width="3.1" height="3.1"/><rect class="bd" x="436.5" y="115.8" width="3.1" height="3.1"/><circle class="rs" cx="438.0" cy="83.5" r="1.6"/><circle class="rd" cx="215.8" cy="161.1" r="1.6"/><circle class="rs" cx="456.6" cy="195.5" r="1.6"/><rect class="bd" x="177.2" y="134.1" width="3.1" height="3.1"/><rect class="bd" x="510.6" y="134.8" width="3.1" height="3.1"/><rect class="bs" x="418.0" y="179.6" width="3.1" height="3.1"/><rect class="bs" x="177.2" y="181.4" width="3.1" height="3.1"/><rect class="bd" x="232.7" y="137.5" width="3.1" height="3.1"/><rect class="bd" x="232.7" y="167.4" width="3.1" height="3.1"/><rect class="bs" x="140.1" y="173.2" width="3.1" height="3.1"/><rect class="bd" x="380.9" y="132.6" width="3.1" height="3.1"/><circle class="rs" cx="456.6" cy="220.2" r="1.6"/><circle class="rd" cx="345.4" cy="158.5" r="1.6"/><rect class="bd" x="195.7" y="139.4" width="3.1" height="3.1"/><rect class="bd" x="288.3" y="134.1" width="3.1" height="3.1"/><rect class="bs" x="362.4" y="223.4" width="3.1" height="3.1"/><circle class="rs" cx="178.7" cy="214.3" r="1.6"/><circle class="rd" cx="438.0" cy="140.2" r="1.6"/><rect class="bd" x="288.3" y="159.6" width="3.1" height="3.1"/><rect class="bd" x="418.0" y="150.0" width="3.1" height="3.1"/><circle class="rd" cx="493.6" cy="107.5" r="1.6"/><rect class="bd" x="418.0" y="139.6" width="3.1" height="3.1"/><rect class="bs" x="418.0" y="176.9" width="3.1" height="3.1"/><circle class="rd" cx="567.7" cy="132.2" r="1.6"/><circle class="rs" cx="438.0" cy="192.7" r="1.6"/><circle class="rd" cx="475.1" cy="111.0" r="1.6"/><circle class="rs" cx="456.6" cy="64.2" r="1.6"/></g>
<path d="M43.5 0.5H684.5V296H43.5Z" fill="none" stroke="#4a4a4a" stroke-width="1"/>
<path d="M67.60 296V301.7 M160.21 296V301.7 M252.82 296V301.7 M345.43 296V301.7 M438.04 296V301.7 M530.65 296V301.7 M623.26 296V301.7 M37.2 284.20H43.5 M37.2 231.82H43.5 M37.2 179.45H43.5 M37.2 127.07H43.5 M37.2 74.70H43.5 M37.2 22.32H43.5" stroke="#4a4a4a" stroke-width="1" fill="none"/>
<g font-size="9.45" fill="#222"><text x="67.6" y="316.6" text-anchor="middle" font-size="9.6">15</text><text x="160.2" y="316.6" text-anchor="middle" font-size="9.6">20</text><text x="252.8" y="316.6" text-anchor="middle" font-size="9.6">25</text><text x="345.4" y="316.6" text-anchor="middle" font-size="9.6">30</text><text x="438.0" y="316.6" text-anchor="middle" font-size="9.6">35</text><text x="530.6" y="316.6" text-anchor="middle" font-size="9.6">40</text><text x="623.3" y="316.6" text-anchor="middle" font-size="9.6">45</text><text transform="translate(30.1,284.2) rotate(-90)" text-anchor="middle" font-size="9.6">-1.0</text><text transform="translate(30.1,231.8) rotate(-90)" text-anchor="middle" font-size="9.6">-0.5</text><text transform="translate(30.1,179.4) rotate(-90)" text-anchor="middle" font-size="9.6">0.0</text><text transform="translate(30.1,127.1) rotate(-90)" text-anchor="middle" font-size="9.6">0.5</text><text transform="translate(30.1,74.7) rotate(-90)" text-anchor="middle" font-size="9.6">1.0</text><text transform="translate(30.1,22.3) rotate(-90)" text-anchor="middle" font-size="9.6">1.5</text><text transform="translate(8,147.8) rotate(-90)" text-anchor="middle">Relative telomere length, log(T/S)</text><text x="364" y="338.9" text-anchor="middle">Maternal age, year</text><text x="678.7" y="237.6" text-anchor="end">Male children</text><text x="678.7" y="248.7" text-anchor="end">Blue square mark and solid line</text><text x="678.7" y="271.4" text-anchor="end">Female children</text><text x="678.7" y="282.7" text-anchor="end">Red circle mark and dashed line</text></g>
</svg></body></html>
